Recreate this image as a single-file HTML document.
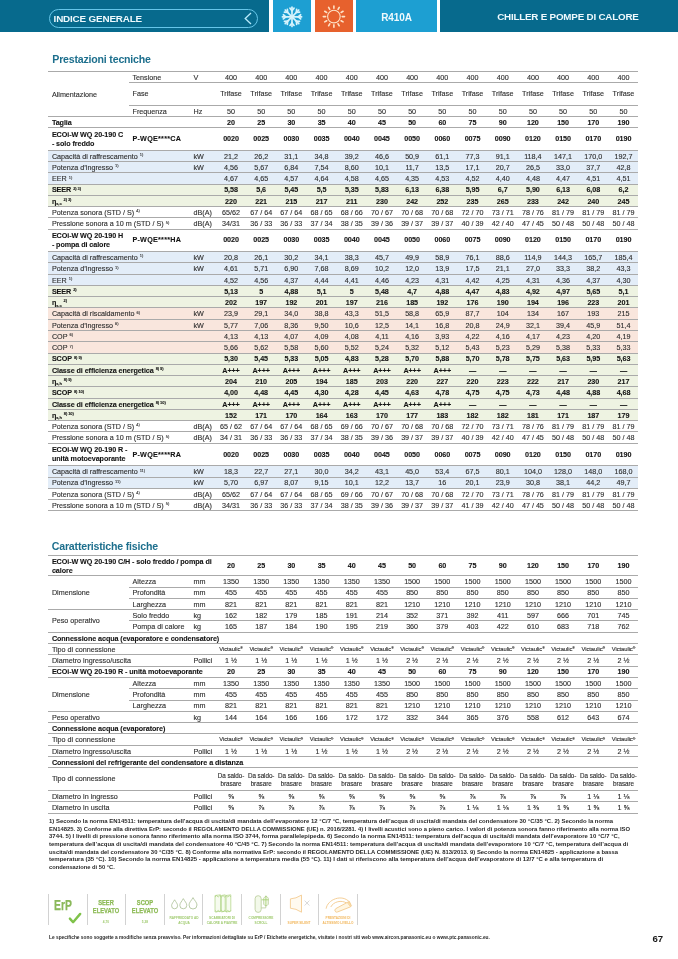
<!DOCTYPE html>
<html lang="it"><head><meta charset="utf-8"><title>Prestazioni tecniche</title>
<style>
*{margin:0;padding:0;box-sizing:border-box}
html,body{width:678px;height:959px;background:#fff;overflow:hidden}
body{position:relative;font-family:"Liberation Sans", Arial, sans-serif;color:#3a3a3a}
.t{position:absolute;white-space:nowrap;font-size:7.2px;padding-top:0.4px;color:#2e2e2e;-webkit-text-stroke:0.12px #2e2e2e}
.v{text-align:center}
.b{font-weight:bold;color:#141414;-webkit-text-stroke:0.1px #141414;letter-spacing:-0.08px}
.sm{font-size:5.8px;letter-spacing:-0.05px}
.sup{font-size:4px;position:relative;top:-2.6px;margin-left:2px;line-height:0}
sup.r{font-size:3.5px;position:relative;top:-1.5px;vertical-align:baseline;line-height:0}
.eta{font-weight:bold}
.eta sub{font-size:4px;position:relative;top:1.5px;vertical-align:baseline;line-height:0}
.fn{position:absolute;white-space:nowrap;font-size:6px;line-height:7px;font-weight:bold;color:#2a2a2a;transform-origin:0 0}
.ic{position:absolute;white-space:nowrap;text-align:center;transform-origin:50% 50%}
.hdr{position:absolute;top:0;height:31.5px}
.h1{position:absolute;font-weight:bold;color:#1d6f8d;font-size:10.6px;white-space:nowrap;letter-spacing:-0.2px}
</style></head><body>
<div class="hdr" style="left:0;width:269px;background:#076a8d"></div>
<div style="position:absolute;left:48.8px;top:9.3px;width:209px;height:18.5px;border:1.1px solid #66c6e9;border-radius:10px"></div>
<div style="position:absolute;left:53.6px;top:10.2px;height:18.5px;line-height:18.5px;font-weight:bold;font-size:9.9px;color:#eef9fd;letter-spacing:-0.18px;white-space:nowrap">INDICE GENERALE</div>
<svg style="position:absolute;left:243px;top:12px" width="10" height="13" viewBox="0 0 10 13"><path d="M8 1 L2.2 6.5 L8 12" fill="none" stroke="#b8ebfb" stroke-width="1.3"/></svg>
<div class="hdr" style="left:272.8px;width:38.4px;background:#1d9fd2"></div>
<div class="hdr" style="left:314.6px;width:38.6px;background:#e7612d"></div>
<div class="hdr" style="left:356.3px;width:80.5px;background:#1d9fd2;color:#eef9fd;font-weight:bold;font-size:10px;line-height:31.5px;padding-top:1.6px;text-align:center;letter-spacing:-0.1px">R410A</div>
<div class="hdr" style="left:440.3px;width:237.7px;background:#076a8d"></div>
<div style="position:absolute;left:497.2px;top:1.1px;height:31.5px;line-height:31.5px;color:#eef9fd;font-weight:bold;font-size:9.8px;letter-spacing:-0.2px;white-space:nowrap">CHILLER E POMPE DI CALORE</div>
<div class="h1" style="left:52.3px;top:51px;line-height:16px">Prestazioni tecniche</div>
<div class="h1" style="left:51.8px;top:537.5px;line-height:16px">Caratteristiche fisiche</div>
<div class="t" style="left:132.50px;top:71.30px;width:60.00px;height:11.27px;line-height:11.27px;text-align:left;">Tensione</div>
<div class="t" style="left:193.50px;top:71.30px;width:24.00px;height:11.27px;line-height:11.27px;text-align:left;">V</div>
<div class="t v " style="left:215.91px;top:71.30px;width:30.19px;height:11.27px;line-height:11.27px">400</div>
<div class="t v " style="left:246.09px;top:71.30px;width:30.19px;height:11.27px;line-height:11.27px">400</div>
<div class="t v " style="left:276.28px;top:71.30px;width:30.19px;height:11.27px;line-height:11.27px">400</div>
<div class="t v " style="left:306.47px;top:71.30px;width:30.19px;height:11.27px;line-height:11.27px">400</div>
<div class="t v " style="left:336.66px;top:71.30px;width:30.19px;height:11.27px;line-height:11.27px">400</div>
<div class="t v " style="left:366.86px;top:71.30px;width:30.19px;height:11.27px;line-height:11.27px">400</div>
<div class="t v " style="left:397.04px;top:71.30px;width:30.19px;height:11.27px;line-height:11.27px">400</div>
<div class="t v " style="left:427.24px;top:71.30px;width:30.19px;height:11.27px;line-height:11.27px">400</div>
<div class="t v " style="left:457.42px;top:71.30px;width:30.19px;height:11.27px;line-height:11.27px">400</div>
<div class="t v " style="left:487.62px;top:71.30px;width:30.19px;height:11.27px;line-height:11.27px">400</div>
<div class="t v " style="left:517.81px;top:71.30px;width:30.19px;height:11.27px;line-height:11.27px">400</div>
<div class="t v " style="left:548.00px;top:71.30px;width:30.19px;height:11.27px;line-height:11.27px">400</div>
<div class="t v " style="left:578.18px;top:71.30px;width:30.19px;height:11.27px;line-height:11.27px">400</div>
<div class="t v " style="left:608.38px;top:71.30px;width:30.19px;height:11.27px;line-height:11.27px">400</div>
<div class="t" style="left:132.50px;top:82.57px;width:60.00px;height:22.54px;line-height:22.54px;text-align:left;">Fase</div>
<div class="t v " style="left:215.91px;top:82.57px;width:30.19px;height:22.54px;line-height:22.54px">Trifase</div>
<div class="t v " style="left:246.09px;top:82.57px;width:30.19px;height:22.54px;line-height:22.54px">Trifase</div>
<div class="t v " style="left:276.28px;top:82.57px;width:30.19px;height:22.54px;line-height:22.54px">Trifase</div>
<div class="t v " style="left:306.47px;top:82.57px;width:30.19px;height:22.54px;line-height:22.54px">Trifase</div>
<div class="t v " style="left:336.66px;top:82.57px;width:30.19px;height:22.54px;line-height:22.54px">Trifase</div>
<div class="t v " style="left:366.86px;top:82.57px;width:30.19px;height:22.54px;line-height:22.54px">Trifase</div>
<div class="t v " style="left:397.04px;top:82.57px;width:30.19px;height:22.54px;line-height:22.54px">Trifase</div>
<div class="t v " style="left:427.24px;top:82.57px;width:30.19px;height:22.54px;line-height:22.54px">Trifase</div>
<div class="t v " style="left:457.42px;top:82.57px;width:30.19px;height:22.54px;line-height:22.54px">Trifase</div>
<div class="t v " style="left:487.62px;top:82.57px;width:30.19px;height:22.54px;line-height:22.54px">Trifase</div>
<div class="t v " style="left:517.81px;top:82.57px;width:30.19px;height:22.54px;line-height:22.54px">Trifase</div>
<div class="t v " style="left:548.00px;top:82.57px;width:30.19px;height:22.54px;line-height:22.54px">Trifase</div>
<div class="t v " style="left:578.18px;top:82.57px;width:30.19px;height:22.54px;line-height:22.54px">Trifase</div>
<div class="t v " style="left:608.38px;top:82.57px;width:30.19px;height:22.54px;line-height:22.54px">Trifase</div>
<div class="t" style="left:132.50px;top:105.11px;width:60.00px;height:11.27px;line-height:11.27px;text-align:left;">Frequenza</div>
<div class="t" style="left:51.90px;top:71.30px;width:80.00px;height:45.08px;line-height:45.08px;text-align:left;">Alimentazione</div>
<div class="t" style="left:193.50px;top:105.11px;width:24.00px;height:11.27px;line-height:11.27px;text-align:left;">Hz</div>
<div class="t v " style="left:215.91px;top:105.11px;width:30.19px;height:11.27px;line-height:11.27px">50</div>
<div class="t v " style="left:246.09px;top:105.11px;width:30.19px;height:11.27px;line-height:11.27px">50</div>
<div class="t v " style="left:276.28px;top:105.11px;width:30.19px;height:11.27px;line-height:11.27px">50</div>
<div class="t v " style="left:306.47px;top:105.11px;width:30.19px;height:11.27px;line-height:11.27px">50</div>
<div class="t v " style="left:336.66px;top:105.11px;width:30.19px;height:11.27px;line-height:11.27px">50</div>
<div class="t v " style="left:366.86px;top:105.11px;width:30.19px;height:11.27px;line-height:11.27px">50</div>
<div class="t v " style="left:397.04px;top:105.11px;width:30.19px;height:11.27px;line-height:11.27px">50</div>
<div class="t v " style="left:427.24px;top:105.11px;width:30.19px;height:11.27px;line-height:11.27px">50</div>
<div class="t v " style="left:457.42px;top:105.11px;width:30.19px;height:11.27px;line-height:11.27px">50</div>
<div class="t v " style="left:487.62px;top:105.11px;width:30.19px;height:11.27px;line-height:11.27px">50</div>
<div class="t v " style="left:517.81px;top:105.11px;width:30.19px;height:11.27px;line-height:11.27px">50</div>
<div class="t v " style="left:548.00px;top:105.11px;width:30.19px;height:11.27px;line-height:11.27px">50</div>
<div class="t v " style="left:578.18px;top:105.11px;width:30.19px;height:11.27px;line-height:11.27px">50</div>
<div class="t v " style="left:608.38px;top:105.11px;width:30.19px;height:11.27px;line-height:11.27px">50</div>
<div class="t b" style="left:51.90px;top:116.38px;height:11.27px;line-height:11.27px">Taglia</div>
<div class="t v b" style="left:215.91px;top:116.38px;width:30.19px;height:11.27px;line-height:11.27px">20</div>
<div class="t v b" style="left:246.09px;top:116.38px;width:30.19px;height:11.27px;line-height:11.27px">25</div>
<div class="t v b" style="left:276.28px;top:116.38px;width:30.19px;height:11.27px;line-height:11.27px">30</div>
<div class="t v b" style="left:306.47px;top:116.38px;width:30.19px;height:11.27px;line-height:11.27px">35</div>
<div class="t v b" style="left:336.66px;top:116.38px;width:30.19px;height:11.27px;line-height:11.27px">40</div>
<div class="t v b" style="left:366.86px;top:116.38px;width:30.19px;height:11.27px;line-height:11.27px">45</div>
<div class="t v b" style="left:397.04px;top:116.38px;width:30.19px;height:11.27px;line-height:11.27px">50</div>
<div class="t v b" style="left:427.24px;top:116.38px;width:30.19px;height:11.27px;line-height:11.27px">60</div>
<div class="t v b" style="left:457.42px;top:116.38px;width:30.19px;height:11.27px;line-height:11.27px">75</div>
<div class="t v b" style="left:487.62px;top:116.38px;width:30.19px;height:11.27px;line-height:11.27px">90</div>
<div class="t v b" style="left:517.81px;top:116.38px;width:30.19px;height:11.27px;line-height:11.27px">120</div>
<div class="t v b" style="left:548.00px;top:116.38px;width:30.19px;height:11.27px;line-height:11.27px">150</div>
<div class="t v b" style="left:578.18px;top:116.38px;width:30.19px;height:11.27px;line-height:11.27px">170</div>
<div class="t v b" style="left:608.38px;top:116.38px;width:30.19px;height:11.27px;line-height:11.27px">190</div>
<div class="t b" style="left:51.90px;top:130.35px;width:90px;line-height:8.8px">ECOi-W WQ 20-190 C<br>- solo freddo</div>
<div class="t b" style="left:132.40px;top:127.65px;height:22.54px;line-height:22.54px;letter-spacing:0.26px">P-WQE****CA</div>
<div class="t v b" style="left:215.91px;top:127.65px;width:30.19px;height:22.54px;line-height:22.54px">0020</div>
<div class="t v b" style="left:246.09px;top:127.65px;width:30.19px;height:22.54px;line-height:22.54px">0025</div>
<div class="t v b" style="left:276.28px;top:127.65px;width:30.19px;height:22.54px;line-height:22.54px">0030</div>
<div class="t v b" style="left:306.47px;top:127.65px;width:30.19px;height:22.54px;line-height:22.54px">0035</div>
<div class="t v b" style="left:336.66px;top:127.65px;width:30.19px;height:22.54px;line-height:22.54px">0040</div>
<div class="t v b" style="left:366.86px;top:127.65px;width:30.19px;height:22.54px;line-height:22.54px">0045</div>
<div class="t v b" style="left:397.04px;top:127.65px;width:30.19px;height:22.54px;line-height:22.54px">0050</div>
<div class="t v b" style="left:427.24px;top:127.65px;width:30.19px;height:22.54px;line-height:22.54px">0060</div>
<div class="t v b" style="left:457.42px;top:127.65px;width:30.19px;height:22.54px;line-height:22.54px">0075</div>
<div class="t v b" style="left:487.62px;top:127.65px;width:30.19px;height:22.54px;line-height:22.54px">0090</div>
<div class="t v b" style="left:517.81px;top:127.65px;width:30.19px;height:22.54px;line-height:22.54px">0120</div>
<div class="t v b" style="left:548.00px;top:127.65px;width:30.19px;height:22.54px;line-height:22.54px">0150</div>
<div class="t v b" style="left:578.18px;top:127.65px;width:30.19px;height:22.54px;line-height:22.54px">0170</div>
<div class="t v b" style="left:608.38px;top:127.65px;width:30.19px;height:22.54px;line-height:22.54px">0190</div>
<div style="position:absolute;left:48.40px;top:150.19px;width:589.60px;height:11.27px;background:#e3edf8"></div>
<div class="t " style="left:51.90px;top:150.19px;height:11.27px;line-height:11.27px">Capacità di raffrescamento<span class="sup">1)</span></div>
<div class="t" style="left:193.50px;top:150.19px;width:24.00px;height:11.27px;line-height:11.27px;text-align:left;">kW</div>
<div class="t v " style="left:215.91px;top:150.19px;width:30.19px;height:11.27px;line-height:11.27px">21,2</div>
<div class="t v " style="left:246.09px;top:150.19px;width:30.19px;height:11.27px;line-height:11.27px">26,2</div>
<div class="t v " style="left:276.28px;top:150.19px;width:30.19px;height:11.27px;line-height:11.27px">31,1</div>
<div class="t v " style="left:306.47px;top:150.19px;width:30.19px;height:11.27px;line-height:11.27px">34,8</div>
<div class="t v " style="left:336.66px;top:150.19px;width:30.19px;height:11.27px;line-height:11.27px">39,2</div>
<div class="t v " style="left:366.86px;top:150.19px;width:30.19px;height:11.27px;line-height:11.27px">46,6</div>
<div class="t v " style="left:397.04px;top:150.19px;width:30.19px;height:11.27px;line-height:11.27px">50,9</div>
<div class="t v " style="left:427.24px;top:150.19px;width:30.19px;height:11.27px;line-height:11.27px">61,1</div>
<div class="t v " style="left:457.42px;top:150.19px;width:30.19px;height:11.27px;line-height:11.27px">77,3</div>
<div class="t v " style="left:487.62px;top:150.19px;width:30.19px;height:11.27px;line-height:11.27px">91,1</div>
<div class="t v " style="left:517.81px;top:150.19px;width:30.19px;height:11.27px;line-height:11.27px">118,4</div>
<div class="t v " style="left:548.00px;top:150.19px;width:30.19px;height:11.27px;line-height:11.27px">147,1</div>
<div class="t v " style="left:578.18px;top:150.19px;width:30.19px;height:11.27px;line-height:11.27px">170,0</div>
<div class="t v " style="left:608.38px;top:150.19px;width:30.19px;height:11.27px;line-height:11.27px">192,7</div>
<div style="position:absolute;left:48.40px;top:161.46px;width:589.60px;height:11.27px;background:#e3edf8"></div>
<div class="t " style="left:51.90px;top:161.46px;height:11.27px;line-height:11.27px">Potenza d’ingresso<span class="sup">1)</span></div>
<div class="t" style="left:193.50px;top:161.46px;width:24.00px;height:11.27px;line-height:11.27px;text-align:left;">kW</div>
<div class="t v " style="left:215.91px;top:161.46px;width:30.19px;height:11.27px;line-height:11.27px">4,56</div>
<div class="t v " style="left:246.09px;top:161.46px;width:30.19px;height:11.27px;line-height:11.27px">5,67</div>
<div class="t v " style="left:276.28px;top:161.46px;width:30.19px;height:11.27px;line-height:11.27px">6,84</div>
<div class="t v " style="left:306.47px;top:161.46px;width:30.19px;height:11.27px;line-height:11.27px">7,54</div>
<div class="t v " style="left:336.66px;top:161.46px;width:30.19px;height:11.27px;line-height:11.27px">8,60</div>
<div class="t v " style="left:366.86px;top:161.46px;width:30.19px;height:11.27px;line-height:11.27px">10,1</div>
<div class="t v " style="left:397.04px;top:161.46px;width:30.19px;height:11.27px;line-height:11.27px">11,7</div>
<div class="t v " style="left:427.24px;top:161.46px;width:30.19px;height:11.27px;line-height:11.27px">13,5</div>
<div class="t v " style="left:457.42px;top:161.46px;width:30.19px;height:11.27px;line-height:11.27px">17,1</div>
<div class="t v " style="left:487.62px;top:161.46px;width:30.19px;height:11.27px;line-height:11.27px">20,7</div>
<div class="t v " style="left:517.81px;top:161.46px;width:30.19px;height:11.27px;line-height:11.27px">26,5</div>
<div class="t v " style="left:548.00px;top:161.46px;width:30.19px;height:11.27px;line-height:11.27px">33,0</div>
<div class="t v " style="left:578.18px;top:161.46px;width:30.19px;height:11.27px;line-height:11.27px">37,7</div>
<div class="t v " style="left:608.38px;top:161.46px;width:30.19px;height:11.27px;line-height:11.27px">42,8</div>
<div style="position:absolute;left:48.40px;top:172.73px;width:589.60px;height:11.27px;background:#e3edf8"></div>
<div class="t " style="left:51.90px;top:172.73px;height:11.27px;line-height:11.27px">EER<span class="sup">1)</span></div>
<div class="t v " style="left:215.91px;top:172.73px;width:30.19px;height:11.27px;line-height:11.27px">4,67</div>
<div class="t v " style="left:246.09px;top:172.73px;width:30.19px;height:11.27px;line-height:11.27px">4,65</div>
<div class="t v " style="left:276.28px;top:172.73px;width:30.19px;height:11.27px;line-height:11.27px">4,57</div>
<div class="t v " style="left:306.47px;top:172.73px;width:30.19px;height:11.27px;line-height:11.27px">4,64</div>
<div class="t v " style="left:336.66px;top:172.73px;width:30.19px;height:11.27px;line-height:11.27px">4,58</div>
<div class="t v " style="left:366.86px;top:172.73px;width:30.19px;height:11.27px;line-height:11.27px">4,65</div>
<div class="t v " style="left:397.04px;top:172.73px;width:30.19px;height:11.27px;line-height:11.27px">4,35</div>
<div class="t v " style="left:427.24px;top:172.73px;width:30.19px;height:11.27px;line-height:11.27px">4,53</div>
<div class="t v " style="left:457.42px;top:172.73px;width:30.19px;height:11.27px;line-height:11.27px">4,52</div>
<div class="t v " style="left:487.62px;top:172.73px;width:30.19px;height:11.27px;line-height:11.27px">4,40</div>
<div class="t v " style="left:517.81px;top:172.73px;width:30.19px;height:11.27px;line-height:11.27px">4,48</div>
<div class="t v " style="left:548.00px;top:172.73px;width:30.19px;height:11.27px;line-height:11.27px">4,47</div>
<div class="t v " style="left:578.18px;top:172.73px;width:30.19px;height:11.27px;line-height:11.27px">4,51</div>
<div class="t v " style="left:608.38px;top:172.73px;width:30.19px;height:11.27px;line-height:11.27px">4,51</div>
<div style="position:absolute;left:48.40px;top:184.00px;width:589.60px;height:11.27px;background:#eef3e2"></div>
<div class="t b" style="left:51.90px;top:184.00px;height:11.27px;line-height:11.27px">SEER<span class="sup">2) 3)</span></div>
<div class="t v b" style="left:215.91px;top:184.00px;width:30.19px;height:11.27px;line-height:11.27px">5,58</div>
<div class="t v b" style="left:246.09px;top:184.00px;width:30.19px;height:11.27px;line-height:11.27px">5,6</div>
<div class="t v b" style="left:276.28px;top:184.00px;width:30.19px;height:11.27px;line-height:11.27px">5,45</div>
<div class="t v b" style="left:306.47px;top:184.00px;width:30.19px;height:11.27px;line-height:11.27px">5,5</div>
<div class="t v b" style="left:336.66px;top:184.00px;width:30.19px;height:11.27px;line-height:11.27px">5,35</div>
<div class="t v b" style="left:366.86px;top:184.00px;width:30.19px;height:11.27px;line-height:11.27px">5,83</div>
<div class="t v b" style="left:397.04px;top:184.00px;width:30.19px;height:11.27px;line-height:11.27px">6,13</div>
<div class="t v b" style="left:427.24px;top:184.00px;width:30.19px;height:11.27px;line-height:11.27px">6,38</div>
<div class="t v b" style="left:457.42px;top:184.00px;width:30.19px;height:11.27px;line-height:11.27px">5,95</div>
<div class="t v b" style="left:487.62px;top:184.00px;width:30.19px;height:11.27px;line-height:11.27px">6,7</div>
<div class="t v b" style="left:517.81px;top:184.00px;width:30.19px;height:11.27px;line-height:11.27px">5,90</div>
<div class="t v b" style="left:548.00px;top:184.00px;width:30.19px;height:11.27px;line-height:11.27px">6,13</div>
<div class="t v b" style="left:578.18px;top:184.00px;width:30.19px;height:11.27px;line-height:11.27px">6,08</div>
<div class="t v b" style="left:608.38px;top:184.00px;width:30.19px;height:11.27px;line-height:11.27px">6,2</div>
<div style="position:absolute;left:48.40px;top:195.27px;width:589.60px;height:11.27px;background:#eef3e2"></div>
<div class="t b" style="left:51.90px;top:195.27px;height:11.27px;line-height:11.27px"><span class="eta">η<sub>s,c</sub></span><span class="sup">2) 3)</span></div>
<div class="t v b" style="left:215.91px;top:195.27px;width:30.19px;height:11.27px;line-height:11.27px">220</div>
<div class="t v b" style="left:246.09px;top:195.27px;width:30.19px;height:11.27px;line-height:11.27px">221</div>
<div class="t v b" style="left:276.28px;top:195.27px;width:30.19px;height:11.27px;line-height:11.27px">215</div>
<div class="t v b" style="left:306.47px;top:195.27px;width:30.19px;height:11.27px;line-height:11.27px">217</div>
<div class="t v b" style="left:336.66px;top:195.27px;width:30.19px;height:11.27px;line-height:11.27px">211</div>
<div class="t v b" style="left:366.86px;top:195.27px;width:30.19px;height:11.27px;line-height:11.27px">230</div>
<div class="t v b" style="left:397.04px;top:195.27px;width:30.19px;height:11.27px;line-height:11.27px">242</div>
<div class="t v b" style="left:427.24px;top:195.27px;width:30.19px;height:11.27px;line-height:11.27px">252</div>
<div class="t v b" style="left:457.42px;top:195.27px;width:30.19px;height:11.27px;line-height:11.27px">235</div>
<div class="t v b" style="left:487.62px;top:195.27px;width:30.19px;height:11.27px;line-height:11.27px">265</div>
<div class="t v b" style="left:517.81px;top:195.27px;width:30.19px;height:11.27px;line-height:11.27px">233</div>
<div class="t v b" style="left:548.00px;top:195.27px;width:30.19px;height:11.27px;line-height:11.27px">242</div>
<div class="t v b" style="left:578.18px;top:195.27px;width:30.19px;height:11.27px;line-height:11.27px">240</div>
<div class="t v b" style="left:608.38px;top:195.27px;width:30.19px;height:11.27px;line-height:11.27px">245</div>
<div class="t " style="left:51.90px;top:206.54px;height:11.27px;line-height:11.27px">Potenza sonora (STD / S)<span class="sup">4)</span></div>
<div class="t" style="left:193.50px;top:206.54px;width:24.00px;height:11.27px;line-height:11.27px;text-align:left;">dB(A)</div>
<div class="t v " style="left:215.91px;top:206.54px;width:30.19px;height:11.27px;line-height:11.27px">65/62</div>
<div class="t v " style="left:246.09px;top:206.54px;width:30.19px;height:11.27px;line-height:11.27px">67 / 64</div>
<div class="t v " style="left:276.28px;top:206.54px;width:30.19px;height:11.27px;line-height:11.27px">67 / 64</div>
<div class="t v " style="left:306.47px;top:206.54px;width:30.19px;height:11.27px;line-height:11.27px">68 / 65</div>
<div class="t v " style="left:336.66px;top:206.54px;width:30.19px;height:11.27px;line-height:11.27px">68 / 66</div>
<div class="t v " style="left:366.86px;top:206.54px;width:30.19px;height:11.27px;line-height:11.27px">70 / 67</div>
<div class="t v " style="left:397.04px;top:206.54px;width:30.19px;height:11.27px;line-height:11.27px">70 / 68</div>
<div class="t v " style="left:427.24px;top:206.54px;width:30.19px;height:11.27px;line-height:11.27px">70 / 68</div>
<div class="t v " style="left:457.42px;top:206.54px;width:30.19px;height:11.27px;line-height:11.27px">72 / 70</div>
<div class="t v " style="left:487.62px;top:206.54px;width:30.19px;height:11.27px;line-height:11.27px">73 / 71</div>
<div class="t v " style="left:517.81px;top:206.54px;width:30.19px;height:11.27px;line-height:11.27px">78 / 76</div>
<div class="t v " style="left:548.00px;top:206.54px;width:30.19px;height:11.27px;line-height:11.27px">81 / 79</div>
<div class="t v " style="left:578.18px;top:206.54px;width:30.19px;height:11.27px;line-height:11.27px">81 / 79</div>
<div class="t v " style="left:608.38px;top:206.54px;width:30.19px;height:11.27px;line-height:11.27px">81 / 79</div>
<div class="t " style="left:51.90px;top:217.81px;height:11.27px;line-height:11.27px">Pressione sonora a 10 m (STD / S)<span class="sup">5)</span></div>
<div class="t" style="left:193.50px;top:217.81px;width:24.00px;height:11.27px;line-height:11.27px;text-align:left;">dB(A)</div>
<div class="t v " style="left:215.91px;top:217.81px;width:30.19px;height:11.27px;line-height:11.27px">34/31</div>
<div class="t v " style="left:246.09px;top:217.81px;width:30.19px;height:11.27px;line-height:11.27px">36 / 33</div>
<div class="t v " style="left:276.28px;top:217.81px;width:30.19px;height:11.27px;line-height:11.27px">36 / 33</div>
<div class="t v " style="left:306.47px;top:217.81px;width:30.19px;height:11.27px;line-height:11.27px">37 / 34</div>
<div class="t v " style="left:336.66px;top:217.81px;width:30.19px;height:11.27px;line-height:11.27px">38 / 35</div>
<div class="t v " style="left:366.86px;top:217.81px;width:30.19px;height:11.27px;line-height:11.27px">39 / 36</div>
<div class="t v " style="left:397.04px;top:217.81px;width:30.19px;height:11.27px;line-height:11.27px">39 / 37</div>
<div class="t v " style="left:427.24px;top:217.81px;width:30.19px;height:11.27px;line-height:11.27px">39 / 37</div>
<div class="t v " style="left:457.42px;top:217.81px;width:30.19px;height:11.27px;line-height:11.27px">40 / 39</div>
<div class="t v " style="left:487.62px;top:217.81px;width:30.19px;height:11.27px;line-height:11.27px">42 / 40</div>
<div class="t v " style="left:517.81px;top:217.81px;width:30.19px;height:11.27px;line-height:11.27px">47 / 45</div>
<div class="t v " style="left:548.00px;top:217.81px;width:30.19px;height:11.27px;line-height:11.27px">50 / 48</div>
<div class="t v " style="left:578.18px;top:217.81px;width:30.19px;height:11.27px;line-height:11.27px">50 / 48</div>
<div class="t v " style="left:608.38px;top:217.81px;width:30.19px;height:11.27px;line-height:11.27px">50 / 48</div>
<div class="t b" style="left:51.90px;top:231.78px;width:90px;line-height:8.8px">ECOi-W WQ 20-190 H<br>- pompa di calore</div>
<div class="t b" style="left:132.40px;top:229.08px;height:22.54px;line-height:22.54px;letter-spacing:0.26px">P-WQE****HA</div>
<div class="t v b" style="left:215.91px;top:229.08px;width:30.19px;height:22.54px;line-height:22.54px">0020</div>
<div class="t v b" style="left:246.09px;top:229.08px;width:30.19px;height:22.54px;line-height:22.54px">0025</div>
<div class="t v b" style="left:276.28px;top:229.08px;width:30.19px;height:22.54px;line-height:22.54px">0030</div>
<div class="t v b" style="left:306.47px;top:229.08px;width:30.19px;height:22.54px;line-height:22.54px">0035</div>
<div class="t v b" style="left:336.66px;top:229.08px;width:30.19px;height:22.54px;line-height:22.54px">0040</div>
<div class="t v b" style="left:366.86px;top:229.08px;width:30.19px;height:22.54px;line-height:22.54px">0045</div>
<div class="t v b" style="left:397.04px;top:229.08px;width:30.19px;height:22.54px;line-height:22.54px">0050</div>
<div class="t v b" style="left:427.24px;top:229.08px;width:30.19px;height:22.54px;line-height:22.54px">0060</div>
<div class="t v b" style="left:457.42px;top:229.08px;width:30.19px;height:22.54px;line-height:22.54px">0075</div>
<div class="t v b" style="left:487.62px;top:229.08px;width:30.19px;height:22.54px;line-height:22.54px">0090</div>
<div class="t v b" style="left:517.81px;top:229.08px;width:30.19px;height:22.54px;line-height:22.54px">0120</div>
<div class="t v b" style="left:548.00px;top:229.08px;width:30.19px;height:22.54px;line-height:22.54px">0150</div>
<div class="t v b" style="left:578.18px;top:229.08px;width:30.19px;height:22.54px;line-height:22.54px">0170</div>
<div class="t v b" style="left:608.38px;top:229.08px;width:30.19px;height:22.54px;line-height:22.54px">0190</div>
<div style="position:absolute;left:48.40px;top:251.62px;width:589.60px;height:11.27px;background:#e3edf8"></div>
<div class="t " style="left:51.90px;top:251.62px;height:11.27px;line-height:11.27px">Capacità di raffrescamento<span class="sup">1)</span></div>
<div class="t" style="left:193.50px;top:251.62px;width:24.00px;height:11.27px;line-height:11.27px;text-align:left;">kW</div>
<div class="t v " style="left:215.91px;top:251.62px;width:30.19px;height:11.27px;line-height:11.27px">20,8</div>
<div class="t v " style="left:246.09px;top:251.62px;width:30.19px;height:11.27px;line-height:11.27px">26,1</div>
<div class="t v " style="left:276.28px;top:251.62px;width:30.19px;height:11.27px;line-height:11.27px">30,2</div>
<div class="t v " style="left:306.47px;top:251.62px;width:30.19px;height:11.27px;line-height:11.27px">34,1</div>
<div class="t v " style="left:336.66px;top:251.62px;width:30.19px;height:11.27px;line-height:11.27px">38,3</div>
<div class="t v " style="left:366.86px;top:251.62px;width:30.19px;height:11.27px;line-height:11.27px">45,7</div>
<div class="t v " style="left:397.04px;top:251.62px;width:30.19px;height:11.27px;line-height:11.27px">49,9</div>
<div class="t v " style="left:427.24px;top:251.62px;width:30.19px;height:11.27px;line-height:11.27px">58,9</div>
<div class="t v " style="left:457.42px;top:251.62px;width:30.19px;height:11.27px;line-height:11.27px">76,1</div>
<div class="t v " style="left:487.62px;top:251.62px;width:30.19px;height:11.27px;line-height:11.27px">88,6</div>
<div class="t v " style="left:517.81px;top:251.62px;width:30.19px;height:11.27px;line-height:11.27px">114,9</div>
<div class="t v " style="left:548.00px;top:251.62px;width:30.19px;height:11.27px;line-height:11.27px">144,3</div>
<div class="t v " style="left:578.18px;top:251.62px;width:30.19px;height:11.27px;line-height:11.27px">165,7</div>
<div class="t v " style="left:608.38px;top:251.62px;width:30.19px;height:11.27px;line-height:11.27px">185,4</div>
<div style="position:absolute;left:48.40px;top:262.89px;width:589.60px;height:11.27px;background:#e3edf8"></div>
<div class="t " style="left:51.90px;top:262.89px;height:11.27px;line-height:11.27px">Potenza d’ingresso<span class="sup">1)</span></div>
<div class="t" style="left:193.50px;top:262.89px;width:24.00px;height:11.27px;line-height:11.27px;text-align:left;">kW</div>
<div class="t v " style="left:215.91px;top:262.89px;width:30.19px;height:11.27px;line-height:11.27px">4,61</div>
<div class="t v " style="left:246.09px;top:262.89px;width:30.19px;height:11.27px;line-height:11.27px">5,71</div>
<div class="t v " style="left:276.28px;top:262.89px;width:30.19px;height:11.27px;line-height:11.27px">6,90</div>
<div class="t v " style="left:306.47px;top:262.89px;width:30.19px;height:11.27px;line-height:11.27px">7,68</div>
<div class="t v " style="left:336.66px;top:262.89px;width:30.19px;height:11.27px;line-height:11.27px">8,69</div>
<div class="t v " style="left:366.86px;top:262.89px;width:30.19px;height:11.27px;line-height:11.27px">10,2</div>
<div class="t v " style="left:397.04px;top:262.89px;width:30.19px;height:11.27px;line-height:11.27px">12,0</div>
<div class="t v " style="left:427.24px;top:262.89px;width:30.19px;height:11.27px;line-height:11.27px">13,9</div>
<div class="t v " style="left:457.42px;top:262.89px;width:30.19px;height:11.27px;line-height:11.27px">17,5</div>
<div class="t v " style="left:487.62px;top:262.89px;width:30.19px;height:11.27px;line-height:11.27px">21,1</div>
<div class="t v " style="left:517.81px;top:262.89px;width:30.19px;height:11.27px;line-height:11.27px">27,0</div>
<div class="t v " style="left:548.00px;top:262.89px;width:30.19px;height:11.27px;line-height:11.27px">33,3</div>
<div class="t v " style="left:578.18px;top:262.89px;width:30.19px;height:11.27px;line-height:11.27px">38,2</div>
<div class="t v " style="left:608.38px;top:262.89px;width:30.19px;height:11.27px;line-height:11.27px">43,3</div>
<div style="position:absolute;left:48.40px;top:274.16px;width:589.60px;height:11.27px;background:#e3edf8"></div>
<div class="t " style="left:51.90px;top:274.16px;height:11.27px;line-height:11.27px">EER<span class="sup">1)</span></div>
<div class="t v " style="left:215.91px;top:274.16px;width:30.19px;height:11.27px;line-height:11.27px">4,52</div>
<div class="t v " style="left:246.09px;top:274.16px;width:30.19px;height:11.27px;line-height:11.27px">4,56</div>
<div class="t v " style="left:276.28px;top:274.16px;width:30.19px;height:11.27px;line-height:11.27px">4,37</div>
<div class="t v " style="left:306.47px;top:274.16px;width:30.19px;height:11.27px;line-height:11.27px">4,44</div>
<div class="t v " style="left:336.66px;top:274.16px;width:30.19px;height:11.27px;line-height:11.27px">4,41</div>
<div class="t v " style="left:366.86px;top:274.16px;width:30.19px;height:11.27px;line-height:11.27px">4,46</div>
<div class="t v " style="left:397.04px;top:274.16px;width:30.19px;height:11.27px;line-height:11.27px">4,23</div>
<div class="t v " style="left:427.24px;top:274.16px;width:30.19px;height:11.27px;line-height:11.27px">4,31</div>
<div class="t v " style="left:457.42px;top:274.16px;width:30.19px;height:11.27px;line-height:11.27px">4,42</div>
<div class="t v " style="left:487.62px;top:274.16px;width:30.19px;height:11.27px;line-height:11.27px">4,25</div>
<div class="t v " style="left:517.81px;top:274.16px;width:30.19px;height:11.27px;line-height:11.27px">4,31</div>
<div class="t v " style="left:548.00px;top:274.16px;width:30.19px;height:11.27px;line-height:11.27px">4,36</div>
<div class="t v " style="left:578.18px;top:274.16px;width:30.19px;height:11.27px;line-height:11.27px">4,37</div>
<div class="t v " style="left:608.38px;top:274.16px;width:30.19px;height:11.27px;line-height:11.27px">4,30</div>
<div style="position:absolute;left:48.40px;top:285.43px;width:589.60px;height:11.27px;background:#eef3e2"></div>
<div class="t b" style="left:51.90px;top:285.43px;height:11.27px;line-height:11.27px">SEER<span class="sup">2)</span></div>
<div class="t v b" style="left:215.91px;top:285.43px;width:30.19px;height:11.27px;line-height:11.27px">5,13</div>
<div class="t v b" style="left:246.09px;top:285.43px;width:30.19px;height:11.27px;line-height:11.27px">5</div>
<div class="t v b" style="left:276.28px;top:285.43px;width:30.19px;height:11.27px;line-height:11.27px">4,88</div>
<div class="t v b" style="left:306.47px;top:285.43px;width:30.19px;height:11.27px;line-height:11.27px">5,1</div>
<div class="t v b" style="left:336.66px;top:285.43px;width:30.19px;height:11.27px;line-height:11.27px">5</div>
<div class="t v b" style="left:366.86px;top:285.43px;width:30.19px;height:11.27px;line-height:11.27px">5,48</div>
<div class="t v b" style="left:397.04px;top:285.43px;width:30.19px;height:11.27px;line-height:11.27px">4,7</div>
<div class="t v b" style="left:427.24px;top:285.43px;width:30.19px;height:11.27px;line-height:11.27px">4,88</div>
<div class="t v b" style="left:457.42px;top:285.43px;width:30.19px;height:11.27px;line-height:11.27px">4,47</div>
<div class="t v b" style="left:487.62px;top:285.43px;width:30.19px;height:11.27px;line-height:11.27px">4,83</div>
<div class="t v b" style="left:517.81px;top:285.43px;width:30.19px;height:11.27px;line-height:11.27px">4,92</div>
<div class="t v b" style="left:548.00px;top:285.43px;width:30.19px;height:11.27px;line-height:11.27px">4,97</div>
<div class="t v b" style="left:578.18px;top:285.43px;width:30.19px;height:11.27px;line-height:11.27px">5,65</div>
<div class="t v b" style="left:608.38px;top:285.43px;width:30.19px;height:11.27px;line-height:11.27px">5,1</div>
<div style="position:absolute;left:48.40px;top:296.70px;width:589.60px;height:11.27px;background:#eef3e2"></div>
<div class="t b" style="left:51.90px;top:296.70px;height:11.27px;line-height:11.27px"><span class="eta">η<sub>s,c</sub></span><span class="sup">2)</span></div>
<div class="t v b" style="left:215.91px;top:296.70px;width:30.19px;height:11.27px;line-height:11.27px">202</div>
<div class="t v b" style="left:246.09px;top:296.70px;width:30.19px;height:11.27px;line-height:11.27px">197</div>
<div class="t v b" style="left:276.28px;top:296.70px;width:30.19px;height:11.27px;line-height:11.27px">192</div>
<div class="t v b" style="left:306.47px;top:296.70px;width:30.19px;height:11.27px;line-height:11.27px">201</div>
<div class="t v b" style="left:336.66px;top:296.70px;width:30.19px;height:11.27px;line-height:11.27px">197</div>
<div class="t v b" style="left:366.86px;top:296.70px;width:30.19px;height:11.27px;line-height:11.27px">216</div>
<div class="t v b" style="left:397.04px;top:296.70px;width:30.19px;height:11.27px;line-height:11.27px">185</div>
<div class="t v b" style="left:427.24px;top:296.70px;width:30.19px;height:11.27px;line-height:11.27px">192</div>
<div class="t v b" style="left:457.42px;top:296.70px;width:30.19px;height:11.27px;line-height:11.27px">176</div>
<div class="t v b" style="left:487.62px;top:296.70px;width:30.19px;height:11.27px;line-height:11.27px">190</div>
<div class="t v b" style="left:517.81px;top:296.70px;width:30.19px;height:11.27px;line-height:11.27px">194</div>
<div class="t v b" style="left:548.00px;top:296.70px;width:30.19px;height:11.27px;line-height:11.27px">196</div>
<div class="t v b" style="left:578.18px;top:296.70px;width:30.19px;height:11.27px;line-height:11.27px">223</div>
<div class="t v b" style="left:608.38px;top:296.70px;width:30.19px;height:11.27px;line-height:11.27px">201</div>
<div style="position:absolute;left:48.40px;top:307.97px;width:589.60px;height:11.27px;background:#f9e6dd"></div>
<div class="t " style="left:51.90px;top:307.97px;height:11.27px;line-height:11.27px">Capacità di riscaldamento<span class="sup">6)</span></div>
<div class="t" style="left:193.50px;top:307.97px;width:24.00px;height:11.27px;line-height:11.27px;text-align:left;">kW</div>
<div class="t v " style="left:215.91px;top:307.97px;width:30.19px;height:11.27px;line-height:11.27px">23,9</div>
<div class="t v " style="left:246.09px;top:307.97px;width:30.19px;height:11.27px;line-height:11.27px">29,1</div>
<div class="t v " style="left:276.28px;top:307.97px;width:30.19px;height:11.27px;line-height:11.27px">34,0</div>
<div class="t v " style="left:306.47px;top:307.97px;width:30.19px;height:11.27px;line-height:11.27px">38,8</div>
<div class="t v " style="left:336.66px;top:307.97px;width:30.19px;height:11.27px;line-height:11.27px">43,3</div>
<div class="t v " style="left:366.86px;top:307.97px;width:30.19px;height:11.27px;line-height:11.27px">51,5</div>
<div class="t v " style="left:397.04px;top:307.97px;width:30.19px;height:11.27px;line-height:11.27px">58,8</div>
<div class="t v " style="left:427.24px;top:307.97px;width:30.19px;height:11.27px;line-height:11.27px">65,9</div>
<div class="t v " style="left:457.42px;top:307.97px;width:30.19px;height:11.27px;line-height:11.27px">87,7</div>
<div class="t v " style="left:487.62px;top:307.97px;width:30.19px;height:11.27px;line-height:11.27px">104</div>
<div class="t v " style="left:517.81px;top:307.97px;width:30.19px;height:11.27px;line-height:11.27px">134</div>
<div class="t v " style="left:548.00px;top:307.97px;width:30.19px;height:11.27px;line-height:11.27px">167</div>
<div class="t v " style="left:578.18px;top:307.97px;width:30.19px;height:11.27px;line-height:11.27px">193</div>
<div class="t v " style="left:608.38px;top:307.97px;width:30.19px;height:11.27px;line-height:11.27px">215</div>
<div style="position:absolute;left:48.40px;top:319.24px;width:589.60px;height:11.27px;background:#f9e6dd"></div>
<div class="t " style="left:51.90px;top:319.24px;height:11.27px;line-height:11.27px">Potenza d’ingresso<span class="sup">6)</span></div>
<div class="t" style="left:193.50px;top:319.24px;width:24.00px;height:11.27px;line-height:11.27px;text-align:left;">kW</div>
<div class="t v " style="left:215.91px;top:319.24px;width:30.19px;height:11.27px;line-height:11.27px">5,77</div>
<div class="t v " style="left:246.09px;top:319.24px;width:30.19px;height:11.27px;line-height:11.27px">7,06</div>
<div class="t v " style="left:276.28px;top:319.24px;width:30.19px;height:11.27px;line-height:11.27px">8,36</div>
<div class="t v " style="left:306.47px;top:319.24px;width:30.19px;height:11.27px;line-height:11.27px">9,50</div>
<div class="t v " style="left:336.66px;top:319.24px;width:30.19px;height:11.27px;line-height:11.27px">10,6</div>
<div class="t v " style="left:366.86px;top:319.24px;width:30.19px;height:11.27px;line-height:11.27px">12,5</div>
<div class="t v " style="left:397.04px;top:319.24px;width:30.19px;height:11.27px;line-height:11.27px">14,1</div>
<div class="t v " style="left:427.24px;top:319.24px;width:30.19px;height:11.27px;line-height:11.27px">16,8</div>
<div class="t v " style="left:457.42px;top:319.24px;width:30.19px;height:11.27px;line-height:11.27px">20,8</div>
<div class="t v " style="left:487.62px;top:319.24px;width:30.19px;height:11.27px;line-height:11.27px">24,9</div>
<div class="t v " style="left:517.81px;top:319.24px;width:30.19px;height:11.27px;line-height:11.27px">32,1</div>
<div class="t v " style="left:548.00px;top:319.24px;width:30.19px;height:11.27px;line-height:11.27px">39,4</div>
<div class="t v " style="left:578.18px;top:319.24px;width:30.19px;height:11.27px;line-height:11.27px">45,9</div>
<div class="t v " style="left:608.38px;top:319.24px;width:30.19px;height:11.27px;line-height:11.27px">51,4</div>
<div style="position:absolute;left:48.40px;top:330.51px;width:589.60px;height:11.27px;background:#f9e6dd"></div>
<div class="t " style="left:51.90px;top:330.51px;height:11.27px;line-height:11.27px">COP<span class="sup">6)</span></div>
<div class="t v " style="left:215.91px;top:330.51px;width:30.19px;height:11.27px;line-height:11.27px">4,13</div>
<div class="t v " style="left:246.09px;top:330.51px;width:30.19px;height:11.27px;line-height:11.27px">4,13</div>
<div class="t v " style="left:276.28px;top:330.51px;width:30.19px;height:11.27px;line-height:11.27px">4,07</div>
<div class="t v " style="left:306.47px;top:330.51px;width:30.19px;height:11.27px;line-height:11.27px">4,09</div>
<div class="t v " style="left:336.66px;top:330.51px;width:30.19px;height:11.27px;line-height:11.27px">4,08</div>
<div class="t v " style="left:366.86px;top:330.51px;width:30.19px;height:11.27px;line-height:11.27px">4,11</div>
<div class="t v " style="left:397.04px;top:330.51px;width:30.19px;height:11.27px;line-height:11.27px">4,16</div>
<div class="t v " style="left:427.24px;top:330.51px;width:30.19px;height:11.27px;line-height:11.27px">3,93</div>
<div class="t v " style="left:457.42px;top:330.51px;width:30.19px;height:11.27px;line-height:11.27px">4,22</div>
<div class="t v " style="left:487.62px;top:330.51px;width:30.19px;height:11.27px;line-height:11.27px">4,16</div>
<div class="t v " style="left:517.81px;top:330.51px;width:30.19px;height:11.27px;line-height:11.27px">4,17</div>
<div class="t v " style="left:548.00px;top:330.51px;width:30.19px;height:11.27px;line-height:11.27px">4,23</div>
<div class="t v " style="left:578.18px;top:330.51px;width:30.19px;height:11.27px;line-height:11.27px">4,20</div>
<div class="t v " style="left:608.38px;top:330.51px;width:30.19px;height:11.27px;line-height:11.27px">4,19</div>
<div style="position:absolute;left:48.40px;top:341.78px;width:589.60px;height:11.27px;background:#f9e6dd"></div>
<div class="t " style="left:51.90px;top:341.78px;height:11.27px;line-height:11.27px">COP<span class="sup">7)</span></div>
<div class="t v " style="left:215.91px;top:341.78px;width:30.19px;height:11.27px;line-height:11.27px">5,66</div>
<div class="t v " style="left:246.09px;top:341.78px;width:30.19px;height:11.27px;line-height:11.27px">5,62</div>
<div class="t v " style="left:276.28px;top:341.78px;width:30.19px;height:11.27px;line-height:11.27px">5,58</div>
<div class="t v " style="left:306.47px;top:341.78px;width:30.19px;height:11.27px;line-height:11.27px">5,60</div>
<div class="t v " style="left:336.66px;top:341.78px;width:30.19px;height:11.27px;line-height:11.27px">5,52</div>
<div class="t v " style="left:366.86px;top:341.78px;width:30.19px;height:11.27px;line-height:11.27px">5,24</div>
<div class="t v " style="left:397.04px;top:341.78px;width:30.19px;height:11.27px;line-height:11.27px">5,32</div>
<div class="t v " style="left:427.24px;top:341.78px;width:30.19px;height:11.27px;line-height:11.27px">5,12</div>
<div class="t v " style="left:457.42px;top:341.78px;width:30.19px;height:11.27px;line-height:11.27px">5,43</div>
<div class="t v " style="left:487.62px;top:341.78px;width:30.19px;height:11.27px;line-height:11.27px">5,23</div>
<div class="t v " style="left:517.81px;top:341.78px;width:30.19px;height:11.27px;line-height:11.27px">5,29</div>
<div class="t v " style="left:548.00px;top:341.78px;width:30.19px;height:11.27px;line-height:11.27px">5,38</div>
<div class="t v " style="left:578.18px;top:341.78px;width:30.19px;height:11.27px;line-height:11.27px">5,33</div>
<div class="t v " style="left:608.38px;top:341.78px;width:30.19px;height:11.27px;line-height:11.27px">5,33</div>
<div style="position:absolute;left:48.40px;top:353.05px;width:589.60px;height:11.27px;background:#eef3e2"></div>
<div class="t b" style="left:51.90px;top:353.05px;height:11.27px;line-height:11.27px">SCOP<span class="sup">8) 9)</span></div>
<div class="t v b" style="left:215.91px;top:353.05px;width:30.19px;height:11.27px;line-height:11.27px">5,30</div>
<div class="t v b" style="left:246.09px;top:353.05px;width:30.19px;height:11.27px;line-height:11.27px">5,45</div>
<div class="t v b" style="left:276.28px;top:353.05px;width:30.19px;height:11.27px;line-height:11.27px">5,33</div>
<div class="t v b" style="left:306.47px;top:353.05px;width:30.19px;height:11.27px;line-height:11.27px">5,05</div>
<div class="t v b" style="left:336.66px;top:353.05px;width:30.19px;height:11.27px;line-height:11.27px">4,83</div>
<div class="t v b" style="left:366.86px;top:353.05px;width:30.19px;height:11.27px;line-height:11.27px">5,28</div>
<div class="t v b" style="left:397.04px;top:353.05px;width:30.19px;height:11.27px;line-height:11.27px">5,70</div>
<div class="t v b" style="left:427.24px;top:353.05px;width:30.19px;height:11.27px;line-height:11.27px">5,88</div>
<div class="t v b" style="left:457.42px;top:353.05px;width:30.19px;height:11.27px;line-height:11.27px">5,70</div>
<div class="t v b" style="left:487.62px;top:353.05px;width:30.19px;height:11.27px;line-height:11.27px">5,78</div>
<div class="t v b" style="left:517.81px;top:353.05px;width:30.19px;height:11.27px;line-height:11.27px">5,75</div>
<div class="t v b" style="left:548.00px;top:353.05px;width:30.19px;height:11.27px;line-height:11.27px">5,63</div>
<div class="t v b" style="left:578.18px;top:353.05px;width:30.19px;height:11.27px;line-height:11.27px">5,95</div>
<div class="t v b" style="left:608.38px;top:353.05px;width:30.19px;height:11.27px;line-height:11.27px">5,63</div>
<div style="position:absolute;left:48.40px;top:364.32px;width:589.60px;height:11.27px;background:#eef3e2"></div>
<div class="t b" style="left:51.90px;top:364.32px;height:11.27px;line-height:11.27px">Classe di efficienza energetica<span class="sup">8) 9)</span></div>
<div class="t v b" style="left:215.91px;top:364.32px;width:30.19px;height:11.27px;line-height:11.27px">A+++</div>
<div class="t v b" style="left:246.09px;top:364.32px;width:30.19px;height:11.27px;line-height:11.27px">A+++</div>
<div class="t v b" style="left:276.28px;top:364.32px;width:30.19px;height:11.27px;line-height:11.27px">A+++</div>
<div class="t v b" style="left:306.47px;top:364.32px;width:30.19px;height:11.27px;line-height:11.27px">A+++</div>
<div class="t v b" style="left:336.66px;top:364.32px;width:30.19px;height:11.27px;line-height:11.27px">A+++</div>
<div class="t v b" style="left:366.86px;top:364.32px;width:30.19px;height:11.27px;line-height:11.27px">A+++</div>
<div class="t v b" style="left:397.04px;top:364.32px;width:30.19px;height:11.27px;line-height:11.27px">A+++</div>
<div class="t v b" style="left:427.24px;top:364.32px;width:30.19px;height:11.27px;line-height:11.27px">A+++</div>
<div class="t v b" style="left:457.42px;top:364.32px;width:30.19px;height:11.27px;line-height:11.27px">—</div>
<div class="t v b" style="left:487.62px;top:364.32px;width:30.19px;height:11.27px;line-height:11.27px">—</div>
<div class="t v b" style="left:517.81px;top:364.32px;width:30.19px;height:11.27px;line-height:11.27px">—</div>
<div class="t v b" style="left:548.00px;top:364.32px;width:30.19px;height:11.27px;line-height:11.27px">—</div>
<div class="t v b" style="left:578.18px;top:364.32px;width:30.19px;height:11.27px;line-height:11.27px">—</div>
<div class="t v b" style="left:608.38px;top:364.32px;width:30.19px;height:11.27px;line-height:11.27px">—</div>
<div style="position:absolute;left:48.40px;top:375.59px;width:589.60px;height:11.27px;background:#eef3e2"></div>
<div class="t b" style="left:51.90px;top:375.59px;height:11.27px;line-height:11.27px"><span class="eta">η<sub>s,h</sub></span><span class="sup">8) 9)</span></div>
<div class="t v b" style="left:215.91px;top:375.59px;width:30.19px;height:11.27px;line-height:11.27px">204</div>
<div class="t v b" style="left:246.09px;top:375.59px;width:30.19px;height:11.27px;line-height:11.27px">210</div>
<div class="t v b" style="left:276.28px;top:375.59px;width:30.19px;height:11.27px;line-height:11.27px">205</div>
<div class="t v b" style="left:306.47px;top:375.59px;width:30.19px;height:11.27px;line-height:11.27px">194</div>
<div class="t v b" style="left:336.66px;top:375.59px;width:30.19px;height:11.27px;line-height:11.27px">185</div>
<div class="t v b" style="left:366.86px;top:375.59px;width:30.19px;height:11.27px;line-height:11.27px">203</div>
<div class="t v b" style="left:397.04px;top:375.59px;width:30.19px;height:11.27px;line-height:11.27px">220</div>
<div class="t v b" style="left:427.24px;top:375.59px;width:30.19px;height:11.27px;line-height:11.27px">227</div>
<div class="t v b" style="left:457.42px;top:375.59px;width:30.19px;height:11.27px;line-height:11.27px">220</div>
<div class="t v b" style="left:487.62px;top:375.59px;width:30.19px;height:11.27px;line-height:11.27px">223</div>
<div class="t v b" style="left:517.81px;top:375.59px;width:30.19px;height:11.27px;line-height:11.27px">222</div>
<div class="t v b" style="left:548.00px;top:375.59px;width:30.19px;height:11.27px;line-height:11.27px">217</div>
<div class="t v b" style="left:578.18px;top:375.59px;width:30.19px;height:11.27px;line-height:11.27px">230</div>
<div class="t v b" style="left:608.38px;top:375.59px;width:30.19px;height:11.27px;line-height:11.27px">217</div>
<div style="position:absolute;left:48.40px;top:386.86px;width:589.60px;height:11.27px;background:#eef3e2"></div>
<div class="t b" style="left:51.90px;top:386.86px;height:11.27px;line-height:11.27px">SCOP<span class="sup">8) 10)</span></div>
<div class="t v b" style="left:215.91px;top:386.86px;width:30.19px;height:11.27px;line-height:11.27px">4,00</div>
<div class="t v b" style="left:246.09px;top:386.86px;width:30.19px;height:11.27px;line-height:11.27px">4,48</div>
<div class="t v b" style="left:276.28px;top:386.86px;width:30.19px;height:11.27px;line-height:11.27px">4,45</div>
<div class="t v b" style="left:306.47px;top:386.86px;width:30.19px;height:11.27px;line-height:11.27px">4,30</div>
<div class="t v b" style="left:336.66px;top:386.86px;width:30.19px;height:11.27px;line-height:11.27px">4,28</div>
<div class="t v b" style="left:366.86px;top:386.86px;width:30.19px;height:11.27px;line-height:11.27px">4,45</div>
<div class="t v b" style="left:397.04px;top:386.86px;width:30.19px;height:11.27px;line-height:11.27px">4,63</div>
<div class="t v b" style="left:427.24px;top:386.86px;width:30.19px;height:11.27px;line-height:11.27px">4,78</div>
<div class="t v b" style="left:457.42px;top:386.86px;width:30.19px;height:11.27px;line-height:11.27px">4,75</div>
<div class="t v b" style="left:487.62px;top:386.86px;width:30.19px;height:11.27px;line-height:11.27px">4,75</div>
<div class="t v b" style="left:517.81px;top:386.86px;width:30.19px;height:11.27px;line-height:11.27px">4,73</div>
<div class="t v b" style="left:548.00px;top:386.86px;width:30.19px;height:11.27px;line-height:11.27px">4,48</div>
<div class="t v b" style="left:578.18px;top:386.86px;width:30.19px;height:11.27px;line-height:11.27px">4,88</div>
<div class="t v b" style="left:608.38px;top:386.86px;width:30.19px;height:11.27px;line-height:11.27px">4,68</div>
<div style="position:absolute;left:48.40px;top:398.13px;width:589.60px;height:11.27px;background:#eef3e2"></div>
<div class="t b" style="left:51.90px;top:398.13px;height:11.27px;line-height:11.27px">Classe di efficienza energetica<span class="sup">8) 10)</span></div>
<div class="t v b" style="left:215.91px;top:398.13px;width:30.19px;height:11.27px;line-height:11.27px">A+++</div>
<div class="t v b" style="left:246.09px;top:398.13px;width:30.19px;height:11.27px;line-height:11.27px">A+++</div>
<div class="t v b" style="left:276.28px;top:398.13px;width:30.19px;height:11.27px;line-height:11.27px">A+++</div>
<div class="t v b" style="left:306.47px;top:398.13px;width:30.19px;height:11.27px;line-height:11.27px">A+++</div>
<div class="t v b" style="left:336.66px;top:398.13px;width:30.19px;height:11.27px;line-height:11.27px">A+++</div>
<div class="t v b" style="left:366.86px;top:398.13px;width:30.19px;height:11.27px;line-height:11.27px">A+++</div>
<div class="t v b" style="left:397.04px;top:398.13px;width:30.19px;height:11.27px;line-height:11.27px">A+++</div>
<div class="t v b" style="left:427.24px;top:398.13px;width:30.19px;height:11.27px;line-height:11.27px">A+++</div>
<div class="t v b" style="left:457.42px;top:398.13px;width:30.19px;height:11.27px;line-height:11.27px">—</div>
<div class="t v b" style="left:487.62px;top:398.13px;width:30.19px;height:11.27px;line-height:11.27px">—</div>
<div class="t v b" style="left:517.81px;top:398.13px;width:30.19px;height:11.27px;line-height:11.27px">—</div>
<div class="t v b" style="left:548.00px;top:398.13px;width:30.19px;height:11.27px;line-height:11.27px">—</div>
<div class="t v b" style="left:578.18px;top:398.13px;width:30.19px;height:11.27px;line-height:11.27px">—</div>
<div class="t v b" style="left:608.38px;top:398.13px;width:30.19px;height:11.27px;line-height:11.27px">—</div>
<div style="position:absolute;left:48.40px;top:409.40px;width:589.60px;height:11.27px;background:#eef3e2"></div>
<div class="t b" style="left:51.90px;top:409.40px;height:11.27px;line-height:11.27px"><span class="eta">η<sub>s,h</sub></span><span class="sup">8) 10)</span></div>
<div class="t v b" style="left:215.91px;top:409.40px;width:30.19px;height:11.27px;line-height:11.27px">152</div>
<div class="t v b" style="left:246.09px;top:409.40px;width:30.19px;height:11.27px;line-height:11.27px">171</div>
<div class="t v b" style="left:276.28px;top:409.40px;width:30.19px;height:11.27px;line-height:11.27px">170</div>
<div class="t v b" style="left:306.47px;top:409.40px;width:30.19px;height:11.27px;line-height:11.27px">164</div>
<div class="t v b" style="left:336.66px;top:409.40px;width:30.19px;height:11.27px;line-height:11.27px">163</div>
<div class="t v b" style="left:366.86px;top:409.40px;width:30.19px;height:11.27px;line-height:11.27px">170</div>
<div class="t v b" style="left:397.04px;top:409.40px;width:30.19px;height:11.27px;line-height:11.27px">177</div>
<div class="t v b" style="left:427.24px;top:409.40px;width:30.19px;height:11.27px;line-height:11.27px">183</div>
<div class="t v b" style="left:457.42px;top:409.40px;width:30.19px;height:11.27px;line-height:11.27px">182</div>
<div class="t v b" style="left:487.62px;top:409.40px;width:30.19px;height:11.27px;line-height:11.27px">182</div>
<div class="t v b" style="left:517.81px;top:409.40px;width:30.19px;height:11.27px;line-height:11.27px">181</div>
<div class="t v b" style="left:548.00px;top:409.40px;width:30.19px;height:11.27px;line-height:11.27px">171</div>
<div class="t v b" style="left:578.18px;top:409.40px;width:30.19px;height:11.27px;line-height:11.27px">187</div>
<div class="t v b" style="left:608.38px;top:409.40px;width:30.19px;height:11.27px;line-height:11.27px">179</div>
<div class="t " style="left:51.90px;top:420.67px;height:11.27px;line-height:11.27px">Potenza sonora (STD / S)<span class="sup">4)</span></div>
<div class="t" style="left:193.50px;top:420.67px;width:24.00px;height:11.27px;line-height:11.27px;text-align:left;">dB(A)</div>
<div class="t v " style="left:215.91px;top:420.67px;width:30.19px;height:11.27px;line-height:11.27px">65 / 62</div>
<div class="t v " style="left:246.09px;top:420.67px;width:30.19px;height:11.27px;line-height:11.27px">67 / 64</div>
<div class="t v " style="left:276.28px;top:420.67px;width:30.19px;height:11.27px;line-height:11.27px">67 / 64</div>
<div class="t v " style="left:306.47px;top:420.67px;width:30.19px;height:11.27px;line-height:11.27px">68 / 65</div>
<div class="t v " style="left:336.66px;top:420.67px;width:30.19px;height:11.27px;line-height:11.27px">69 / 66</div>
<div class="t v " style="left:366.86px;top:420.67px;width:30.19px;height:11.27px;line-height:11.27px">70 / 67</div>
<div class="t v " style="left:397.04px;top:420.67px;width:30.19px;height:11.27px;line-height:11.27px">70 / 68</div>
<div class="t v " style="left:427.24px;top:420.67px;width:30.19px;height:11.27px;line-height:11.27px">70 / 68</div>
<div class="t v " style="left:457.42px;top:420.67px;width:30.19px;height:11.27px;line-height:11.27px">72 / 70</div>
<div class="t v " style="left:487.62px;top:420.67px;width:30.19px;height:11.27px;line-height:11.27px">73 / 71</div>
<div class="t v " style="left:517.81px;top:420.67px;width:30.19px;height:11.27px;line-height:11.27px">78 / 76</div>
<div class="t v " style="left:548.00px;top:420.67px;width:30.19px;height:11.27px;line-height:11.27px">81 / 79</div>
<div class="t v " style="left:578.18px;top:420.67px;width:30.19px;height:11.27px;line-height:11.27px">81 / 79</div>
<div class="t v " style="left:608.38px;top:420.67px;width:30.19px;height:11.27px;line-height:11.27px">81 / 79</div>
<div class="t " style="left:51.90px;top:431.94px;height:11.27px;line-height:11.27px">Pressione sonora a 10 m (STD / S)<span class="sup">5)</span></div>
<div class="t" style="left:193.50px;top:431.94px;width:24.00px;height:11.27px;line-height:11.27px;text-align:left;">dB(A)</div>
<div class="t v " style="left:215.91px;top:431.94px;width:30.19px;height:11.27px;line-height:11.27px">34 / 31</div>
<div class="t v " style="left:246.09px;top:431.94px;width:30.19px;height:11.27px;line-height:11.27px">36 / 33</div>
<div class="t v " style="left:276.28px;top:431.94px;width:30.19px;height:11.27px;line-height:11.27px">36 / 33</div>
<div class="t v " style="left:306.47px;top:431.94px;width:30.19px;height:11.27px;line-height:11.27px">37 / 34</div>
<div class="t v " style="left:336.66px;top:431.94px;width:30.19px;height:11.27px;line-height:11.27px">38 / 35</div>
<div class="t v " style="left:366.86px;top:431.94px;width:30.19px;height:11.27px;line-height:11.27px">39 / 36</div>
<div class="t v " style="left:397.04px;top:431.94px;width:30.19px;height:11.27px;line-height:11.27px">39 / 37</div>
<div class="t v " style="left:427.24px;top:431.94px;width:30.19px;height:11.27px;line-height:11.27px">39 / 37</div>
<div class="t v " style="left:457.42px;top:431.94px;width:30.19px;height:11.27px;line-height:11.27px">40 / 39</div>
<div class="t v " style="left:487.62px;top:431.94px;width:30.19px;height:11.27px;line-height:11.27px">42 / 40</div>
<div class="t v " style="left:517.81px;top:431.94px;width:30.19px;height:11.27px;line-height:11.27px">47 / 45</div>
<div class="t v " style="left:548.00px;top:431.94px;width:30.19px;height:11.27px;line-height:11.27px">50 / 48</div>
<div class="t v " style="left:578.18px;top:431.94px;width:30.19px;height:11.27px;line-height:11.27px">50 / 48</div>
<div class="t v " style="left:608.38px;top:431.94px;width:30.19px;height:11.27px;line-height:11.27px">50 / 48</div>
<div class="t b" style="left:51.90px;top:445.91px;width:90px;line-height:8.8px">ECOi-W WQ 20-190 R -<br>unità motoevaporante</div>
<div class="t b" style="left:132.40px;top:443.21px;height:22.54px;line-height:22.54px;letter-spacing:0.26px">P-WQE****RA</div>
<div class="t v b" style="left:215.91px;top:443.21px;width:30.19px;height:22.54px;line-height:22.54px">0020</div>
<div class="t v b" style="left:246.09px;top:443.21px;width:30.19px;height:22.54px;line-height:22.54px">0025</div>
<div class="t v b" style="left:276.28px;top:443.21px;width:30.19px;height:22.54px;line-height:22.54px">0030</div>
<div class="t v b" style="left:306.47px;top:443.21px;width:30.19px;height:22.54px;line-height:22.54px">0035</div>
<div class="t v b" style="left:336.66px;top:443.21px;width:30.19px;height:22.54px;line-height:22.54px">0040</div>
<div class="t v b" style="left:366.86px;top:443.21px;width:30.19px;height:22.54px;line-height:22.54px">0045</div>
<div class="t v b" style="left:397.04px;top:443.21px;width:30.19px;height:22.54px;line-height:22.54px">0050</div>
<div class="t v b" style="left:427.24px;top:443.21px;width:30.19px;height:22.54px;line-height:22.54px">0060</div>
<div class="t v b" style="left:457.42px;top:443.21px;width:30.19px;height:22.54px;line-height:22.54px">0075</div>
<div class="t v b" style="left:487.62px;top:443.21px;width:30.19px;height:22.54px;line-height:22.54px">0090</div>
<div class="t v b" style="left:517.81px;top:443.21px;width:30.19px;height:22.54px;line-height:22.54px">0120</div>
<div class="t v b" style="left:548.00px;top:443.21px;width:30.19px;height:22.54px;line-height:22.54px">0150</div>
<div class="t v b" style="left:578.18px;top:443.21px;width:30.19px;height:22.54px;line-height:22.54px">0170</div>
<div class="t v b" style="left:608.38px;top:443.21px;width:30.19px;height:22.54px;line-height:22.54px">0190</div>
<div style="position:absolute;left:48.40px;top:465.75px;width:589.60px;height:11.27px;background:#e3edf8"></div>
<div class="t " style="left:51.90px;top:465.75px;height:11.27px;line-height:11.27px">Capacità di raffrescamento<span class="sup">11)</span></div>
<div class="t" style="left:193.50px;top:465.75px;width:24.00px;height:11.27px;line-height:11.27px;text-align:left;">kW</div>
<div class="t v " style="left:215.91px;top:465.75px;width:30.19px;height:11.27px;line-height:11.27px">18,3</div>
<div class="t v " style="left:246.09px;top:465.75px;width:30.19px;height:11.27px;line-height:11.27px">22,7</div>
<div class="t v " style="left:276.28px;top:465.75px;width:30.19px;height:11.27px;line-height:11.27px">27,1</div>
<div class="t v " style="left:306.47px;top:465.75px;width:30.19px;height:11.27px;line-height:11.27px">30,0</div>
<div class="t v " style="left:336.66px;top:465.75px;width:30.19px;height:11.27px;line-height:11.27px">34,2</div>
<div class="t v " style="left:366.86px;top:465.75px;width:30.19px;height:11.27px;line-height:11.27px">43,1</div>
<div class="t v " style="left:397.04px;top:465.75px;width:30.19px;height:11.27px;line-height:11.27px">45,0</div>
<div class="t v " style="left:427.24px;top:465.75px;width:30.19px;height:11.27px;line-height:11.27px">53,4</div>
<div class="t v " style="left:457.42px;top:465.75px;width:30.19px;height:11.27px;line-height:11.27px">67,5</div>
<div class="t v " style="left:487.62px;top:465.75px;width:30.19px;height:11.27px;line-height:11.27px">80,1</div>
<div class="t v " style="left:517.81px;top:465.75px;width:30.19px;height:11.27px;line-height:11.27px">104,0</div>
<div class="t v " style="left:548.00px;top:465.75px;width:30.19px;height:11.27px;line-height:11.27px">128,0</div>
<div class="t v " style="left:578.18px;top:465.75px;width:30.19px;height:11.27px;line-height:11.27px">148,0</div>
<div class="t v " style="left:608.38px;top:465.75px;width:30.19px;height:11.27px;line-height:11.27px">168,0</div>
<div style="position:absolute;left:48.40px;top:477.02px;width:589.60px;height:11.27px;background:#e3edf8"></div>
<div class="t " style="left:51.90px;top:477.02px;height:11.27px;line-height:11.27px">Potenza d’ingresso<span class="sup">11)</span></div>
<div class="t" style="left:193.50px;top:477.02px;width:24.00px;height:11.27px;line-height:11.27px;text-align:left;">kW</div>
<div class="t v " style="left:215.91px;top:477.02px;width:30.19px;height:11.27px;line-height:11.27px">5,70</div>
<div class="t v " style="left:246.09px;top:477.02px;width:30.19px;height:11.27px;line-height:11.27px">6,97</div>
<div class="t v " style="left:276.28px;top:477.02px;width:30.19px;height:11.27px;line-height:11.27px">8,07</div>
<div class="t v " style="left:306.47px;top:477.02px;width:30.19px;height:11.27px;line-height:11.27px">9,15</div>
<div class="t v " style="left:336.66px;top:477.02px;width:30.19px;height:11.27px;line-height:11.27px">10,1</div>
<div class="t v " style="left:366.86px;top:477.02px;width:30.19px;height:11.27px;line-height:11.27px">12,2</div>
<div class="t v " style="left:397.04px;top:477.02px;width:30.19px;height:11.27px;line-height:11.27px">13,7</div>
<div class="t v " style="left:427.24px;top:477.02px;width:30.19px;height:11.27px;line-height:11.27px">16</div>
<div class="t v " style="left:457.42px;top:477.02px;width:30.19px;height:11.27px;line-height:11.27px">20,1</div>
<div class="t v " style="left:487.62px;top:477.02px;width:30.19px;height:11.27px;line-height:11.27px">23,9</div>
<div class="t v " style="left:517.81px;top:477.02px;width:30.19px;height:11.27px;line-height:11.27px">30,8</div>
<div class="t v " style="left:548.00px;top:477.02px;width:30.19px;height:11.27px;line-height:11.27px">38,1</div>
<div class="t v " style="left:578.18px;top:477.02px;width:30.19px;height:11.27px;line-height:11.27px">44,2</div>
<div class="t v " style="left:608.38px;top:477.02px;width:30.19px;height:11.27px;line-height:11.27px">49,7</div>
<div class="t " style="left:51.90px;top:488.29px;height:11.27px;line-height:11.27px">Potenza sonora (STD / S)<span class="sup">4)</span></div>
<div class="t" style="left:193.50px;top:488.29px;width:24.00px;height:11.27px;line-height:11.27px;text-align:left;">dB(A)</div>
<div class="t v " style="left:215.91px;top:488.29px;width:30.19px;height:11.27px;line-height:11.27px">65/62</div>
<div class="t v " style="left:246.09px;top:488.29px;width:30.19px;height:11.27px;line-height:11.27px">67 / 64</div>
<div class="t v " style="left:276.28px;top:488.29px;width:30.19px;height:11.27px;line-height:11.27px">67 / 64</div>
<div class="t v " style="left:306.47px;top:488.29px;width:30.19px;height:11.27px;line-height:11.27px">68 / 65</div>
<div class="t v " style="left:336.66px;top:488.29px;width:30.19px;height:11.27px;line-height:11.27px">69 / 66</div>
<div class="t v " style="left:366.86px;top:488.29px;width:30.19px;height:11.27px;line-height:11.27px">70 / 67</div>
<div class="t v " style="left:397.04px;top:488.29px;width:30.19px;height:11.27px;line-height:11.27px">70 / 68</div>
<div class="t v " style="left:427.24px;top:488.29px;width:30.19px;height:11.27px;line-height:11.27px">70 / 68</div>
<div class="t v " style="left:457.42px;top:488.29px;width:30.19px;height:11.27px;line-height:11.27px">72 / 70</div>
<div class="t v " style="left:487.62px;top:488.29px;width:30.19px;height:11.27px;line-height:11.27px">73 / 71</div>
<div class="t v " style="left:517.81px;top:488.29px;width:30.19px;height:11.27px;line-height:11.27px">78 / 76</div>
<div class="t v " style="left:548.00px;top:488.29px;width:30.19px;height:11.27px;line-height:11.27px">81 / 79</div>
<div class="t v " style="left:578.18px;top:488.29px;width:30.19px;height:11.27px;line-height:11.27px">81 / 79</div>
<div class="t v " style="left:608.38px;top:488.29px;width:30.19px;height:11.27px;line-height:11.27px">81 / 79</div>
<div class="t " style="left:51.90px;top:499.56px;height:11.27px;line-height:11.27px">Pressione sonora a 10 m (STD / S)<span class="sup">5)</span></div>
<div class="t" style="left:193.50px;top:499.56px;width:24.00px;height:11.27px;line-height:11.27px;text-align:left;">dB(A)</div>
<div class="t v " style="left:215.91px;top:499.56px;width:30.19px;height:11.27px;line-height:11.27px">34/31</div>
<div class="t v " style="left:246.09px;top:499.56px;width:30.19px;height:11.27px;line-height:11.27px">36 / 33</div>
<div class="t v " style="left:276.28px;top:499.56px;width:30.19px;height:11.27px;line-height:11.27px">36 / 33</div>
<div class="t v " style="left:306.47px;top:499.56px;width:30.19px;height:11.27px;line-height:11.27px">37 / 34</div>
<div class="t v " style="left:336.66px;top:499.56px;width:30.19px;height:11.27px;line-height:11.27px">38 / 35</div>
<div class="t v " style="left:366.86px;top:499.56px;width:30.19px;height:11.27px;line-height:11.27px">39 / 36</div>
<div class="t v " style="left:397.04px;top:499.56px;width:30.19px;height:11.27px;line-height:11.27px">39 / 37</div>
<div class="t v " style="left:427.24px;top:499.56px;width:30.19px;height:11.27px;line-height:11.27px">39 / 37</div>
<div class="t v " style="left:457.42px;top:499.56px;width:30.19px;height:11.27px;line-height:11.27px">41 / 39</div>
<div class="t v " style="left:487.62px;top:499.56px;width:30.19px;height:11.27px;line-height:11.27px">42 / 40</div>
<div class="t v " style="left:517.81px;top:499.56px;width:30.19px;height:11.27px;line-height:11.27px">47 / 45</div>
<div class="t v " style="left:548.00px;top:499.56px;width:30.19px;height:11.27px;line-height:11.27px">50 / 48</div>
<div class="t v " style="left:578.18px;top:499.56px;width:30.19px;height:11.27px;line-height:11.27px">50 / 48</div>
<div class="t v " style="left:608.38px;top:499.56px;width:30.19px;height:11.27px;line-height:11.27px">50 / 48</div>
<div style="position:absolute;left:48.40px;top:70.80px;width:589.60px;height:1px;background:#aaaaaa"></div>
<div style="position:absolute;left:129.00px;top:82.07px;width:509.00px;height:1px;background:#aaaaaa"></div>
<div style="position:absolute;left:129.00px;top:104.61px;width:509.00px;height:1px;background:#aaaaaa"></div>
<div style="position:absolute;left:48.40px;top:115.88px;width:589.60px;height:1px;background:#aaaaaa"></div>
<div style="position:absolute;left:48.40px;top:127.15px;width:589.60px;height:1px;background:#aaaaaa"></div>
<div style="position:absolute;left:48.40px;top:149.69px;width:589.60px;height:1px;background:#aaaaaa"></div>
<div style="position:absolute;left:48.40px;top:160.96px;width:589.60px;height:1px;background:#aaaaaa"></div>
<div style="position:absolute;left:48.40px;top:172.23px;width:589.60px;height:1px;background:#aaaaaa"></div>
<div style="position:absolute;left:48.40px;top:183.50px;width:589.60px;height:1px;background:#aaaaaa"></div>
<div style="position:absolute;left:48.40px;top:194.77px;width:589.60px;height:1px;background:#aaaaaa"></div>
<div style="position:absolute;left:48.40px;top:206.04px;width:589.60px;height:1px;background:#aaaaaa"></div>
<div style="position:absolute;left:48.40px;top:217.31px;width:589.60px;height:1px;background:#aaaaaa"></div>
<div style="position:absolute;left:48.40px;top:228.58px;width:589.60px;height:1px;background:#aaaaaa"></div>
<div style="position:absolute;left:48.40px;top:251.12px;width:589.60px;height:1px;background:#aaaaaa"></div>
<div style="position:absolute;left:48.40px;top:262.39px;width:589.60px;height:1px;background:#aaaaaa"></div>
<div style="position:absolute;left:48.40px;top:273.66px;width:589.60px;height:1px;background:#aaaaaa"></div>
<div style="position:absolute;left:48.40px;top:284.93px;width:589.60px;height:1px;background:#aaaaaa"></div>
<div style="position:absolute;left:48.40px;top:296.20px;width:589.60px;height:1px;background:#aaaaaa"></div>
<div style="position:absolute;left:48.40px;top:307.47px;width:589.60px;height:1px;background:#aaaaaa"></div>
<div style="position:absolute;left:48.40px;top:318.74px;width:589.60px;height:1px;background:#aaaaaa"></div>
<div style="position:absolute;left:48.40px;top:330.01px;width:589.60px;height:1px;background:#aaaaaa"></div>
<div style="position:absolute;left:48.40px;top:341.28px;width:589.60px;height:1px;background:#aaaaaa"></div>
<div style="position:absolute;left:48.40px;top:352.55px;width:589.60px;height:1px;background:#aaaaaa"></div>
<div style="position:absolute;left:48.40px;top:363.82px;width:589.60px;height:1px;background:#aaaaaa"></div>
<div style="position:absolute;left:48.40px;top:375.09px;width:589.60px;height:1px;background:#aaaaaa"></div>
<div style="position:absolute;left:48.40px;top:386.36px;width:589.60px;height:1px;background:#aaaaaa"></div>
<div style="position:absolute;left:48.40px;top:397.63px;width:589.60px;height:1px;background:#aaaaaa"></div>
<div style="position:absolute;left:48.40px;top:408.90px;width:589.60px;height:1px;background:#aaaaaa"></div>
<div style="position:absolute;left:48.40px;top:420.17px;width:589.60px;height:1px;background:#aaaaaa"></div>
<div style="position:absolute;left:48.40px;top:431.44px;width:589.60px;height:1px;background:#aaaaaa"></div>
<div style="position:absolute;left:48.40px;top:442.71px;width:589.60px;height:1px;background:#aaaaaa"></div>
<div style="position:absolute;left:48.40px;top:465.25px;width:589.60px;height:1px;background:#aaaaaa"></div>
<div style="position:absolute;left:48.40px;top:476.52px;width:589.60px;height:1px;background:#aaaaaa"></div>
<div style="position:absolute;left:48.40px;top:487.79px;width:589.60px;height:1px;background:#aaaaaa"></div>
<div style="position:absolute;left:48.40px;top:499.06px;width:589.60px;height:1px;background:#aaaaaa"></div>
<div style="position:absolute;left:48.40px;top:510.33px;width:589.60px;height:1px;background:#aaaaaa"></div>
<div class="t b" style="left:51.90px;top:556.90px;width:170px;line-height:9.0px">ECOi-W WQ 20-190 C/H - solo freddo / pompa di<br>calore</div>
<div class="t v b" style="left:215.91px;top:555.90px;width:30.19px;height:19.80px;line-height:19.80px">20</div>
<div class="t v b" style="left:246.09px;top:555.90px;width:30.19px;height:19.80px;line-height:19.80px">25</div>
<div class="t v b" style="left:276.28px;top:555.90px;width:30.19px;height:19.80px;line-height:19.80px">30</div>
<div class="t v b" style="left:306.47px;top:555.90px;width:30.19px;height:19.80px;line-height:19.80px">35</div>
<div class="t v b" style="left:336.66px;top:555.90px;width:30.19px;height:19.80px;line-height:19.80px">40</div>
<div class="t v b" style="left:366.86px;top:555.90px;width:30.19px;height:19.80px;line-height:19.80px">45</div>
<div class="t v b" style="left:397.04px;top:555.90px;width:30.19px;height:19.80px;line-height:19.80px">50</div>
<div class="t v b" style="left:427.24px;top:555.90px;width:30.19px;height:19.80px;line-height:19.80px">60</div>
<div class="t v b" style="left:457.42px;top:555.90px;width:30.19px;height:19.80px;line-height:19.80px">75</div>
<div class="t v b" style="left:487.62px;top:555.90px;width:30.19px;height:19.80px;line-height:19.80px">90</div>
<div class="t v b" style="left:517.81px;top:555.90px;width:30.19px;height:19.80px;line-height:19.80px">120</div>
<div class="t v b" style="left:548.00px;top:555.90px;width:30.19px;height:19.80px;line-height:19.80px">150</div>
<div class="t v b" style="left:578.18px;top:555.90px;width:30.19px;height:19.80px;line-height:19.80px">170</div>
<div class="t v b" style="left:608.38px;top:555.90px;width:30.19px;height:19.80px;line-height:19.80px">190</div>
<div class="t" style="left:132.50px;top:575.70px;width:70.00px;height:11.30px;line-height:11.30px;text-align:left;">Altezza</div>
<div class="t" style="left:193.50px;top:575.70px;width:24.00px;height:11.30px;line-height:11.30px;text-align:left;">mm</div>
<div class="t v " style="left:215.91px;top:575.70px;width:30.19px;height:11.30px;line-height:11.30px">1350</div>
<div class="t v " style="left:246.09px;top:575.70px;width:30.19px;height:11.30px;line-height:11.30px">1350</div>
<div class="t v " style="left:276.28px;top:575.70px;width:30.19px;height:11.30px;line-height:11.30px">1350</div>
<div class="t v " style="left:306.47px;top:575.70px;width:30.19px;height:11.30px;line-height:11.30px">1350</div>
<div class="t v " style="left:336.66px;top:575.70px;width:30.19px;height:11.30px;line-height:11.30px">1350</div>
<div class="t v " style="left:366.86px;top:575.70px;width:30.19px;height:11.30px;line-height:11.30px">1350</div>
<div class="t v " style="left:397.04px;top:575.70px;width:30.19px;height:11.30px;line-height:11.30px">1500</div>
<div class="t v " style="left:427.24px;top:575.70px;width:30.19px;height:11.30px;line-height:11.30px">1500</div>
<div class="t v " style="left:457.42px;top:575.70px;width:30.19px;height:11.30px;line-height:11.30px">1500</div>
<div class="t v " style="left:487.62px;top:575.70px;width:30.19px;height:11.30px;line-height:11.30px">1500</div>
<div class="t v " style="left:517.81px;top:575.70px;width:30.19px;height:11.30px;line-height:11.30px">1500</div>
<div class="t v " style="left:548.00px;top:575.70px;width:30.19px;height:11.30px;line-height:11.30px">1500</div>
<div class="t v " style="left:578.18px;top:575.70px;width:30.19px;height:11.30px;line-height:11.30px">1500</div>
<div class="t v " style="left:608.38px;top:575.70px;width:30.19px;height:11.30px;line-height:11.30px">1500</div>
<div class="t" style="left:132.50px;top:587.00px;width:70.00px;height:11.30px;line-height:11.30px;text-align:left;">Profondità</div>
<div class="t" style="left:193.50px;top:587.00px;width:24.00px;height:11.30px;line-height:11.30px;text-align:left;">mm</div>
<div class="t v " style="left:215.91px;top:587.00px;width:30.19px;height:11.30px;line-height:11.30px">455</div>
<div class="t v " style="left:246.09px;top:587.00px;width:30.19px;height:11.30px;line-height:11.30px">455</div>
<div class="t v " style="left:276.28px;top:587.00px;width:30.19px;height:11.30px;line-height:11.30px">455</div>
<div class="t v " style="left:306.47px;top:587.00px;width:30.19px;height:11.30px;line-height:11.30px">455</div>
<div class="t v " style="left:336.66px;top:587.00px;width:30.19px;height:11.30px;line-height:11.30px">455</div>
<div class="t v " style="left:366.86px;top:587.00px;width:30.19px;height:11.30px;line-height:11.30px">455</div>
<div class="t v " style="left:397.04px;top:587.00px;width:30.19px;height:11.30px;line-height:11.30px">850</div>
<div class="t v " style="left:427.24px;top:587.00px;width:30.19px;height:11.30px;line-height:11.30px">850</div>
<div class="t v " style="left:457.42px;top:587.00px;width:30.19px;height:11.30px;line-height:11.30px">850</div>
<div class="t v " style="left:487.62px;top:587.00px;width:30.19px;height:11.30px;line-height:11.30px">850</div>
<div class="t v " style="left:517.81px;top:587.00px;width:30.19px;height:11.30px;line-height:11.30px">850</div>
<div class="t v " style="left:548.00px;top:587.00px;width:30.19px;height:11.30px;line-height:11.30px">850</div>
<div class="t v " style="left:578.18px;top:587.00px;width:30.19px;height:11.30px;line-height:11.30px">850</div>
<div class="t v " style="left:608.38px;top:587.00px;width:30.19px;height:11.30px;line-height:11.30px">850</div>
<div class="t" style="left:132.50px;top:598.30px;width:70.00px;height:11.30px;line-height:11.30px;text-align:left;">Larghezza</div>
<div class="t" style="left:51.90px;top:575.70px;width:80.00px;height:33.90px;line-height:33.90px;text-align:left;">Dimensione</div>
<div class="t" style="left:193.50px;top:598.30px;width:24.00px;height:11.30px;line-height:11.30px;text-align:left;">mm</div>
<div class="t v " style="left:215.91px;top:598.30px;width:30.19px;height:11.30px;line-height:11.30px">821</div>
<div class="t v " style="left:246.09px;top:598.30px;width:30.19px;height:11.30px;line-height:11.30px">821</div>
<div class="t v " style="left:276.28px;top:598.30px;width:30.19px;height:11.30px;line-height:11.30px">821</div>
<div class="t v " style="left:306.47px;top:598.30px;width:30.19px;height:11.30px;line-height:11.30px">821</div>
<div class="t v " style="left:336.66px;top:598.30px;width:30.19px;height:11.30px;line-height:11.30px">821</div>
<div class="t v " style="left:366.86px;top:598.30px;width:30.19px;height:11.30px;line-height:11.30px">821</div>
<div class="t v " style="left:397.04px;top:598.30px;width:30.19px;height:11.30px;line-height:11.30px">1210</div>
<div class="t v " style="left:427.24px;top:598.30px;width:30.19px;height:11.30px;line-height:11.30px">1210</div>
<div class="t v " style="left:457.42px;top:598.30px;width:30.19px;height:11.30px;line-height:11.30px">1210</div>
<div class="t v " style="left:487.62px;top:598.30px;width:30.19px;height:11.30px;line-height:11.30px">1210</div>
<div class="t v " style="left:517.81px;top:598.30px;width:30.19px;height:11.30px;line-height:11.30px">1210</div>
<div class="t v " style="left:548.00px;top:598.30px;width:30.19px;height:11.30px;line-height:11.30px">1210</div>
<div class="t v " style="left:578.18px;top:598.30px;width:30.19px;height:11.30px;line-height:11.30px">1210</div>
<div class="t v " style="left:608.38px;top:598.30px;width:30.19px;height:11.30px;line-height:11.30px">1210</div>
<div class="t" style="left:132.50px;top:609.60px;width:70.00px;height:11.30px;line-height:11.30px;text-align:left;">Solo freddo</div>
<div class="t" style="left:193.50px;top:609.60px;width:24.00px;height:11.30px;line-height:11.30px;text-align:left;">kg</div>
<div class="t v " style="left:215.91px;top:609.60px;width:30.19px;height:11.30px;line-height:11.30px">162</div>
<div class="t v " style="left:246.09px;top:609.60px;width:30.19px;height:11.30px;line-height:11.30px">182</div>
<div class="t v " style="left:276.28px;top:609.60px;width:30.19px;height:11.30px;line-height:11.30px">179</div>
<div class="t v " style="left:306.47px;top:609.60px;width:30.19px;height:11.30px;line-height:11.30px">185</div>
<div class="t v " style="left:336.66px;top:609.60px;width:30.19px;height:11.30px;line-height:11.30px">191</div>
<div class="t v " style="left:366.86px;top:609.60px;width:30.19px;height:11.30px;line-height:11.30px">214</div>
<div class="t v " style="left:397.04px;top:609.60px;width:30.19px;height:11.30px;line-height:11.30px">352</div>
<div class="t v " style="left:427.24px;top:609.60px;width:30.19px;height:11.30px;line-height:11.30px">371</div>
<div class="t v " style="left:457.42px;top:609.60px;width:30.19px;height:11.30px;line-height:11.30px">392</div>
<div class="t v " style="left:487.62px;top:609.60px;width:30.19px;height:11.30px;line-height:11.30px">411</div>
<div class="t v " style="left:517.81px;top:609.60px;width:30.19px;height:11.30px;line-height:11.30px">597</div>
<div class="t v " style="left:548.00px;top:609.60px;width:30.19px;height:11.30px;line-height:11.30px">666</div>
<div class="t v " style="left:578.18px;top:609.60px;width:30.19px;height:11.30px;line-height:11.30px">701</div>
<div class="t v " style="left:608.38px;top:609.60px;width:30.19px;height:11.30px;line-height:11.30px">745</div>
<div class="t" style="left:132.50px;top:620.90px;width:70.00px;height:11.30px;line-height:11.30px;text-align:left;">Pompa di calore</div>
<div class="t" style="left:51.90px;top:609.60px;width:80.00px;height:22.60px;line-height:22.60px;text-align:left;">Peso operativo</div>
<div class="t" style="left:193.50px;top:620.90px;width:24.00px;height:11.30px;line-height:11.30px;text-align:left;">kg</div>
<div class="t v " style="left:215.91px;top:620.90px;width:30.19px;height:11.30px;line-height:11.30px">165</div>
<div class="t v " style="left:246.09px;top:620.90px;width:30.19px;height:11.30px;line-height:11.30px">187</div>
<div class="t v " style="left:276.28px;top:620.90px;width:30.19px;height:11.30px;line-height:11.30px">184</div>
<div class="t v " style="left:306.47px;top:620.90px;width:30.19px;height:11.30px;line-height:11.30px">190</div>
<div class="t v " style="left:336.66px;top:620.90px;width:30.19px;height:11.30px;line-height:11.30px">195</div>
<div class="t v " style="left:366.86px;top:620.90px;width:30.19px;height:11.30px;line-height:11.30px">219</div>
<div class="t v " style="left:397.04px;top:620.90px;width:30.19px;height:11.30px;line-height:11.30px">360</div>
<div class="t v " style="left:427.24px;top:620.90px;width:30.19px;height:11.30px;line-height:11.30px">379</div>
<div class="t v " style="left:457.42px;top:620.90px;width:30.19px;height:11.30px;line-height:11.30px">403</div>
<div class="t v " style="left:487.62px;top:620.90px;width:30.19px;height:11.30px;line-height:11.30px">422</div>
<div class="t v " style="left:517.81px;top:620.90px;width:30.19px;height:11.30px;line-height:11.30px">610</div>
<div class="t v " style="left:548.00px;top:620.90px;width:30.19px;height:11.30px;line-height:11.30px">683</div>
<div class="t v " style="left:578.18px;top:620.90px;width:30.19px;height:11.30px;line-height:11.30px">718</div>
<div class="t v " style="left:608.38px;top:620.90px;width:30.19px;height:11.30px;line-height:11.30px">762</div>
<div class="t b" style="left:51.90px;top:632.20px;height:11.30px;line-height:11.30px">Connessione acqua (evaporatore e condensatore)</div>
<div class="t " style="left:51.90px;top:643.50px;height:11.30px;line-height:11.30px">Tipo di connessione</div>
<div class="t v  sm" style="left:215.91px;top:643.50px;width:30.19px;height:11.30px;line-height:11.30px">Victaulic<sup class="r">®</sup></div>
<div class="t v  sm" style="left:246.09px;top:643.50px;width:30.19px;height:11.30px;line-height:11.30px">Victaulic<sup class="r">®</sup></div>
<div class="t v  sm" style="left:276.28px;top:643.50px;width:30.19px;height:11.30px;line-height:11.30px">Victaulic<sup class="r">®</sup></div>
<div class="t v  sm" style="left:306.47px;top:643.50px;width:30.19px;height:11.30px;line-height:11.30px">Victaulic<sup class="r">®</sup></div>
<div class="t v  sm" style="left:336.66px;top:643.50px;width:30.19px;height:11.30px;line-height:11.30px">Victaulic<sup class="r">®</sup></div>
<div class="t v  sm" style="left:366.86px;top:643.50px;width:30.19px;height:11.30px;line-height:11.30px">Victaulic<sup class="r">®</sup></div>
<div class="t v  sm" style="left:397.04px;top:643.50px;width:30.19px;height:11.30px;line-height:11.30px">Victaulic<sup class="r">®</sup></div>
<div class="t v  sm" style="left:427.24px;top:643.50px;width:30.19px;height:11.30px;line-height:11.30px">Victaulic<sup class="r">®</sup></div>
<div class="t v  sm" style="left:457.42px;top:643.50px;width:30.19px;height:11.30px;line-height:11.30px">Victaulic<sup class="r">®</sup></div>
<div class="t v  sm" style="left:487.62px;top:643.50px;width:30.19px;height:11.30px;line-height:11.30px">Victaulic<sup class="r">®</sup></div>
<div class="t v  sm" style="left:517.81px;top:643.50px;width:30.19px;height:11.30px;line-height:11.30px">Victaulic<sup class="r">®</sup></div>
<div class="t v  sm" style="left:548.00px;top:643.50px;width:30.19px;height:11.30px;line-height:11.30px">Victaulic<sup class="r">®</sup></div>
<div class="t v  sm" style="left:578.18px;top:643.50px;width:30.19px;height:11.30px;line-height:11.30px">Victaulic<sup class="r">®</sup></div>
<div class="t v  sm" style="left:608.38px;top:643.50px;width:30.19px;height:11.30px;line-height:11.30px">Victaulic<sup class="r">®</sup></div>
<div class="t " style="left:51.90px;top:654.80px;height:11.30px;line-height:11.30px">Diametro ingresso/uscita</div>
<div class="t" style="left:193.50px;top:654.80px;width:24.00px;height:11.30px;line-height:11.30px;text-align:left;">Pollici</div>
<div class="t v " style="left:215.91px;top:654.80px;width:30.19px;height:11.30px;line-height:11.30px">1 ½</div>
<div class="t v " style="left:246.09px;top:654.80px;width:30.19px;height:11.30px;line-height:11.30px">1 ½</div>
<div class="t v " style="left:276.28px;top:654.80px;width:30.19px;height:11.30px;line-height:11.30px">1 ½</div>
<div class="t v " style="left:306.47px;top:654.80px;width:30.19px;height:11.30px;line-height:11.30px">1 ½</div>
<div class="t v " style="left:336.66px;top:654.80px;width:30.19px;height:11.30px;line-height:11.30px">1 ½</div>
<div class="t v " style="left:366.86px;top:654.80px;width:30.19px;height:11.30px;line-height:11.30px">1 ½</div>
<div class="t v " style="left:397.04px;top:654.80px;width:30.19px;height:11.30px;line-height:11.30px">2 ½</div>
<div class="t v " style="left:427.24px;top:654.80px;width:30.19px;height:11.30px;line-height:11.30px">2 ½</div>
<div class="t v " style="left:457.42px;top:654.80px;width:30.19px;height:11.30px;line-height:11.30px">2 ½</div>
<div class="t v " style="left:487.62px;top:654.80px;width:30.19px;height:11.30px;line-height:11.30px">2 ½</div>
<div class="t v " style="left:517.81px;top:654.80px;width:30.19px;height:11.30px;line-height:11.30px">2 ½</div>
<div class="t v " style="left:548.00px;top:654.80px;width:30.19px;height:11.30px;line-height:11.30px">2 ½</div>
<div class="t v " style="left:578.18px;top:654.80px;width:30.19px;height:11.30px;line-height:11.30px">2 ½</div>
<div class="t v " style="left:608.38px;top:654.80px;width:30.19px;height:11.30px;line-height:11.30px">2 ½</div>
<div class="t b" style="left:51.90px;top:666.10px;height:11.30px;line-height:11.30px">ECOi-W WQ 20-190 R - unità motoevaporante</div>
<div class="t v b" style="left:215.91px;top:666.10px;width:30.19px;height:11.30px;line-height:11.30px">20</div>
<div class="t v b" style="left:246.09px;top:666.10px;width:30.19px;height:11.30px;line-height:11.30px">25</div>
<div class="t v b" style="left:276.28px;top:666.10px;width:30.19px;height:11.30px;line-height:11.30px">30</div>
<div class="t v b" style="left:306.47px;top:666.10px;width:30.19px;height:11.30px;line-height:11.30px">35</div>
<div class="t v b" style="left:336.66px;top:666.10px;width:30.19px;height:11.30px;line-height:11.30px">40</div>
<div class="t v b" style="left:366.86px;top:666.10px;width:30.19px;height:11.30px;line-height:11.30px">45</div>
<div class="t v b" style="left:397.04px;top:666.10px;width:30.19px;height:11.30px;line-height:11.30px">50</div>
<div class="t v b" style="left:427.24px;top:666.10px;width:30.19px;height:11.30px;line-height:11.30px">60</div>
<div class="t v b" style="left:457.42px;top:666.10px;width:30.19px;height:11.30px;line-height:11.30px">75</div>
<div class="t v b" style="left:487.62px;top:666.10px;width:30.19px;height:11.30px;line-height:11.30px">90</div>
<div class="t v b" style="left:517.81px;top:666.10px;width:30.19px;height:11.30px;line-height:11.30px">120</div>
<div class="t v b" style="left:548.00px;top:666.10px;width:30.19px;height:11.30px;line-height:11.30px">150</div>
<div class="t v b" style="left:578.18px;top:666.10px;width:30.19px;height:11.30px;line-height:11.30px">170</div>
<div class="t v b" style="left:608.38px;top:666.10px;width:30.19px;height:11.30px;line-height:11.30px">190</div>
<div class="t" style="left:132.50px;top:677.40px;width:70.00px;height:11.30px;line-height:11.30px;text-align:left;">Altezza</div>
<div class="t" style="left:193.50px;top:677.40px;width:24.00px;height:11.30px;line-height:11.30px;text-align:left;">mm</div>
<div class="t v " style="left:215.91px;top:677.40px;width:30.19px;height:11.30px;line-height:11.30px">1350</div>
<div class="t v " style="left:246.09px;top:677.40px;width:30.19px;height:11.30px;line-height:11.30px">1350</div>
<div class="t v " style="left:276.28px;top:677.40px;width:30.19px;height:11.30px;line-height:11.30px">1350</div>
<div class="t v " style="left:306.47px;top:677.40px;width:30.19px;height:11.30px;line-height:11.30px">1350</div>
<div class="t v " style="left:336.66px;top:677.40px;width:30.19px;height:11.30px;line-height:11.30px">1350</div>
<div class="t v " style="left:366.86px;top:677.40px;width:30.19px;height:11.30px;line-height:11.30px">1350</div>
<div class="t v " style="left:397.04px;top:677.40px;width:30.19px;height:11.30px;line-height:11.30px">1500</div>
<div class="t v " style="left:427.24px;top:677.40px;width:30.19px;height:11.30px;line-height:11.30px">1500</div>
<div class="t v " style="left:457.42px;top:677.40px;width:30.19px;height:11.30px;line-height:11.30px">1500</div>
<div class="t v " style="left:487.62px;top:677.40px;width:30.19px;height:11.30px;line-height:11.30px">1500</div>
<div class="t v " style="left:517.81px;top:677.40px;width:30.19px;height:11.30px;line-height:11.30px">1500</div>
<div class="t v " style="left:548.00px;top:677.40px;width:30.19px;height:11.30px;line-height:11.30px">1500</div>
<div class="t v " style="left:578.18px;top:677.40px;width:30.19px;height:11.30px;line-height:11.30px">1500</div>
<div class="t v " style="left:608.38px;top:677.40px;width:30.19px;height:11.30px;line-height:11.30px">1500</div>
<div class="t" style="left:132.50px;top:688.70px;width:70.00px;height:11.30px;line-height:11.30px;text-align:left;">Profondità</div>
<div class="t" style="left:193.50px;top:688.70px;width:24.00px;height:11.30px;line-height:11.30px;text-align:left;">mm</div>
<div class="t v " style="left:215.91px;top:688.70px;width:30.19px;height:11.30px;line-height:11.30px">455</div>
<div class="t v " style="left:246.09px;top:688.70px;width:30.19px;height:11.30px;line-height:11.30px">455</div>
<div class="t v " style="left:276.28px;top:688.70px;width:30.19px;height:11.30px;line-height:11.30px">455</div>
<div class="t v " style="left:306.47px;top:688.70px;width:30.19px;height:11.30px;line-height:11.30px">455</div>
<div class="t v " style="left:336.66px;top:688.70px;width:30.19px;height:11.30px;line-height:11.30px">455</div>
<div class="t v " style="left:366.86px;top:688.70px;width:30.19px;height:11.30px;line-height:11.30px">455</div>
<div class="t v " style="left:397.04px;top:688.70px;width:30.19px;height:11.30px;line-height:11.30px">850</div>
<div class="t v " style="left:427.24px;top:688.70px;width:30.19px;height:11.30px;line-height:11.30px">850</div>
<div class="t v " style="left:457.42px;top:688.70px;width:30.19px;height:11.30px;line-height:11.30px">850</div>
<div class="t v " style="left:487.62px;top:688.70px;width:30.19px;height:11.30px;line-height:11.30px">850</div>
<div class="t v " style="left:517.81px;top:688.70px;width:30.19px;height:11.30px;line-height:11.30px">850</div>
<div class="t v " style="left:548.00px;top:688.70px;width:30.19px;height:11.30px;line-height:11.30px">850</div>
<div class="t v " style="left:578.18px;top:688.70px;width:30.19px;height:11.30px;line-height:11.30px">850</div>
<div class="t v " style="left:608.38px;top:688.70px;width:30.19px;height:11.30px;line-height:11.30px">850</div>
<div class="t" style="left:132.50px;top:700.00px;width:70.00px;height:11.30px;line-height:11.30px;text-align:left;">Larghezza</div>
<div class="t" style="left:51.90px;top:677.40px;width:80.00px;height:33.90px;line-height:33.90px;text-align:left;">Dimensione</div>
<div class="t" style="left:193.50px;top:700.00px;width:24.00px;height:11.30px;line-height:11.30px;text-align:left;">mm</div>
<div class="t v " style="left:215.91px;top:700.00px;width:30.19px;height:11.30px;line-height:11.30px">821</div>
<div class="t v " style="left:246.09px;top:700.00px;width:30.19px;height:11.30px;line-height:11.30px">821</div>
<div class="t v " style="left:276.28px;top:700.00px;width:30.19px;height:11.30px;line-height:11.30px">821</div>
<div class="t v " style="left:306.47px;top:700.00px;width:30.19px;height:11.30px;line-height:11.30px">821</div>
<div class="t v " style="left:336.66px;top:700.00px;width:30.19px;height:11.30px;line-height:11.30px">821</div>
<div class="t v " style="left:366.86px;top:700.00px;width:30.19px;height:11.30px;line-height:11.30px">821</div>
<div class="t v " style="left:397.04px;top:700.00px;width:30.19px;height:11.30px;line-height:11.30px">1210</div>
<div class="t v " style="left:427.24px;top:700.00px;width:30.19px;height:11.30px;line-height:11.30px">1210</div>
<div class="t v " style="left:457.42px;top:700.00px;width:30.19px;height:11.30px;line-height:11.30px">1210</div>
<div class="t v " style="left:487.62px;top:700.00px;width:30.19px;height:11.30px;line-height:11.30px">1210</div>
<div class="t v " style="left:517.81px;top:700.00px;width:30.19px;height:11.30px;line-height:11.30px">1210</div>
<div class="t v " style="left:548.00px;top:700.00px;width:30.19px;height:11.30px;line-height:11.30px">1210</div>
<div class="t v " style="left:578.18px;top:700.00px;width:30.19px;height:11.30px;line-height:11.30px">1210</div>
<div class="t v " style="left:608.38px;top:700.00px;width:30.19px;height:11.30px;line-height:11.30px">1210</div>
<div class="t " style="left:51.90px;top:711.30px;height:11.30px;line-height:11.30px">Peso operativo</div>
<div class="t" style="left:193.50px;top:711.30px;width:24.00px;height:11.30px;line-height:11.30px;text-align:left;">kg</div>
<div class="t v " style="left:215.91px;top:711.30px;width:30.19px;height:11.30px;line-height:11.30px">144</div>
<div class="t v " style="left:246.09px;top:711.30px;width:30.19px;height:11.30px;line-height:11.30px">164</div>
<div class="t v " style="left:276.28px;top:711.30px;width:30.19px;height:11.30px;line-height:11.30px">166</div>
<div class="t v " style="left:306.47px;top:711.30px;width:30.19px;height:11.30px;line-height:11.30px">166</div>
<div class="t v " style="left:336.66px;top:711.30px;width:30.19px;height:11.30px;line-height:11.30px">172</div>
<div class="t v " style="left:366.86px;top:711.30px;width:30.19px;height:11.30px;line-height:11.30px">172</div>
<div class="t v " style="left:397.04px;top:711.30px;width:30.19px;height:11.30px;line-height:11.30px">332</div>
<div class="t v " style="left:427.24px;top:711.30px;width:30.19px;height:11.30px;line-height:11.30px">344</div>
<div class="t v " style="left:457.42px;top:711.30px;width:30.19px;height:11.30px;line-height:11.30px">365</div>
<div class="t v " style="left:487.62px;top:711.30px;width:30.19px;height:11.30px;line-height:11.30px">376</div>
<div class="t v " style="left:517.81px;top:711.30px;width:30.19px;height:11.30px;line-height:11.30px">558</div>
<div class="t v " style="left:548.00px;top:711.30px;width:30.19px;height:11.30px;line-height:11.30px">612</div>
<div class="t v " style="left:578.18px;top:711.30px;width:30.19px;height:11.30px;line-height:11.30px">643</div>
<div class="t v " style="left:608.38px;top:711.30px;width:30.19px;height:11.30px;line-height:11.30px">674</div>
<div class="t b" style="left:51.90px;top:722.60px;height:11.30px;line-height:11.30px">Connessione acqua (evaporatore)</div>
<div class="t " style="left:51.90px;top:733.90px;height:11.30px;line-height:11.30px">Tipo di connessione</div>
<div class="t v  sm" style="left:215.91px;top:733.90px;width:30.19px;height:11.30px;line-height:11.30px">Victaulic<sup class="r">®</sup></div>
<div class="t v  sm" style="left:246.09px;top:733.90px;width:30.19px;height:11.30px;line-height:11.30px">Victaulic<sup class="r">®</sup></div>
<div class="t v  sm" style="left:276.28px;top:733.90px;width:30.19px;height:11.30px;line-height:11.30px">Victaulic<sup class="r">®</sup></div>
<div class="t v  sm" style="left:306.47px;top:733.90px;width:30.19px;height:11.30px;line-height:11.30px">Victaulic<sup class="r">®</sup></div>
<div class="t v  sm" style="left:336.66px;top:733.90px;width:30.19px;height:11.30px;line-height:11.30px">Victaulic<sup class="r">®</sup></div>
<div class="t v  sm" style="left:366.86px;top:733.90px;width:30.19px;height:11.30px;line-height:11.30px">Victaulic<sup class="r">®</sup></div>
<div class="t v  sm" style="left:397.04px;top:733.90px;width:30.19px;height:11.30px;line-height:11.30px">Victaulic<sup class="r">®</sup></div>
<div class="t v  sm" style="left:427.24px;top:733.90px;width:30.19px;height:11.30px;line-height:11.30px">Victaulic<sup class="r">®</sup></div>
<div class="t v  sm" style="left:457.42px;top:733.90px;width:30.19px;height:11.30px;line-height:11.30px">Victaulic<sup class="r">®</sup></div>
<div class="t v  sm" style="left:487.62px;top:733.90px;width:30.19px;height:11.30px;line-height:11.30px">Victaulic<sup class="r">®</sup></div>
<div class="t v  sm" style="left:517.81px;top:733.90px;width:30.19px;height:11.30px;line-height:11.30px">Victaulic<sup class="r">®</sup></div>
<div class="t v  sm" style="left:548.00px;top:733.90px;width:30.19px;height:11.30px;line-height:11.30px">Victaulic<sup class="r">®</sup></div>
<div class="t v  sm" style="left:578.18px;top:733.90px;width:30.19px;height:11.30px;line-height:11.30px">Victaulic<sup class="r">®</sup></div>
<div class="t v  sm" style="left:608.38px;top:733.90px;width:30.19px;height:11.30px;line-height:11.30px">Victaulic<sup class="r">®</sup></div>
<div class="t " style="left:51.90px;top:745.20px;height:11.30px;line-height:11.30px">Diametro ingresso/uscita</div>
<div class="t" style="left:193.50px;top:745.20px;width:24.00px;height:11.30px;line-height:11.30px;text-align:left;">Pollici</div>
<div class="t v " style="left:215.91px;top:745.20px;width:30.19px;height:11.30px;line-height:11.30px">1 ½</div>
<div class="t v " style="left:246.09px;top:745.20px;width:30.19px;height:11.30px;line-height:11.30px">1 ½</div>
<div class="t v " style="left:276.28px;top:745.20px;width:30.19px;height:11.30px;line-height:11.30px">1 ½</div>
<div class="t v " style="left:306.47px;top:745.20px;width:30.19px;height:11.30px;line-height:11.30px">1 ½</div>
<div class="t v " style="left:336.66px;top:745.20px;width:30.19px;height:11.30px;line-height:11.30px">1 ½</div>
<div class="t v " style="left:366.86px;top:745.20px;width:30.19px;height:11.30px;line-height:11.30px">1 ½</div>
<div class="t v " style="left:397.04px;top:745.20px;width:30.19px;height:11.30px;line-height:11.30px">2 ½</div>
<div class="t v " style="left:427.24px;top:745.20px;width:30.19px;height:11.30px;line-height:11.30px">2 ½</div>
<div class="t v " style="left:457.42px;top:745.20px;width:30.19px;height:11.30px;line-height:11.30px">2 ½</div>
<div class="t v " style="left:487.62px;top:745.20px;width:30.19px;height:11.30px;line-height:11.30px">2 ½</div>
<div class="t v " style="left:517.81px;top:745.20px;width:30.19px;height:11.30px;line-height:11.30px">2 ½</div>
<div class="t v " style="left:548.00px;top:745.20px;width:30.19px;height:11.30px;line-height:11.30px">2 ½</div>
<div class="t v " style="left:578.18px;top:745.20px;width:30.19px;height:11.30px;line-height:11.30px">2 ½</div>
<div class="t v " style="left:608.38px;top:745.20px;width:30.19px;height:11.30px;line-height:11.30px">2 ½</div>
<div class="t b" style="left:51.90px;top:756.50px;height:11.30px;line-height:11.30px">Connessioni del refrigerante del condensatore a distanza</div>
<div class="t" style="left:51.90px;top:767.80px;height:22.60px;line-height:22.60px">Tipo di connessione</div>
<div class="t v" style="left:212.91px;top:771.40px;width:36.19px;line-height:8.0px;font-size:6.3px;letter-spacing:-0.05px">Da saldo-<br>brasare</div>
<div class="t v" style="left:243.09px;top:771.40px;width:36.19px;line-height:8.0px;font-size:6.3px;letter-spacing:-0.05px">Da saldo-<br>brasare</div>
<div class="t v" style="left:273.28px;top:771.40px;width:36.19px;line-height:8.0px;font-size:6.3px;letter-spacing:-0.05px">Da saldo-<br>brasare</div>
<div class="t v" style="left:303.47px;top:771.40px;width:36.19px;line-height:8.0px;font-size:6.3px;letter-spacing:-0.05px">Da saldo-<br>brasare</div>
<div class="t v" style="left:333.66px;top:771.40px;width:36.19px;line-height:8.0px;font-size:6.3px;letter-spacing:-0.05px">Da saldo-<br>brasare</div>
<div class="t v" style="left:363.86px;top:771.40px;width:36.19px;line-height:8.0px;font-size:6.3px;letter-spacing:-0.05px">Da saldo-<br>brasare</div>
<div class="t v" style="left:394.04px;top:771.40px;width:36.19px;line-height:8.0px;font-size:6.3px;letter-spacing:-0.05px">Da saldo-<br>brasare</div>
<div class="t v" style="left:424.24px;top:771.40px;width:36.19px;line-height:8.0px;font-size:6.3px;letter-spacing:-0.05px">Da saldo-<br>brasare</div>
<div class="t v" style="left:454.42px;top:771.40px;width:36.19px;line-height:8.0px;font-size:6.3px;letter-spacing:-0.05px">Da saldo-<br>brasare</div>
<div class="t v" style="left:484.62px;top:771.40px;width:36.19px;line-height:8.0px;font-size:6.3px;letter-spacing:-0.05px">Da saldo-<br>brasare</div>
<div class="t v" style="left:514.81px;top:771.40px;width:36.19px;line-height:8.0px;font-size:6.3px;letter-spacing:-0.05px">Da saldo-<br>brasare</div>
<div class="t v" style="left:545.00px;top:771.40px;width:36.19px;line-height:8.0px;font-size:6.3px;letter-spacing:-0.05px">Da saldo-<br>brasare</div>
<div class="t v" style="left:575.18px;top:771.40px;width:36.19px;line-height:8.0px;font-size:6.3px;letter-spacing:-0.05px">Da saldo-<br>brasare</div>
<div class="t v" style="left:605.38px;top:771.40px;width:36.19px;line-height:8.0px;font-size:6.3px;letter-spacing:-0.05px">Da saldo-<br>brasare</div>
<div class="t " style="left:51.90px;top:790.40px;height:11.30px;line-height:11.30px">Diametro in ingresso</div>
<div class="t" style="left:193.50px;top:790.40px;width:24.00px;height:11.30px;line-height:11.30px;text-align:left;">Pollici</div>
<div class="t v " style="left:215.91px;top:790.40px;width:30.19px;height:11.30px;line-height:11.30px">⅝</div>
<div class="t v " style="left:246.09px;top:790.40px;width:30.19px;height:11.30px;line-height:11.30px">⅝</div>
<div class="t v " style="left:276.28px;top:790.40px;width:30.19px;height:11.30px;line-height:11.30px">⅝</div>
<div class="t v " style="left:306.47px;top:790.40px;width:30.19px;height:11.30px;line-height:11.30px">⅝</div>
<div class="t v " style="left:336.66px;top:790.40px;width:30.19px;height:11.30px;line-height:11.30px">⅝</div>
<div class="t v " style="left:366.86px;top:790.40px;width:30.19px;height:11.30px;line-height:11.30px">⅝</div>
<div class="t v " style="left:397.04px;top:790.40px;width:30.19px;height:11.30px;line-height:11.30px">⅝</div>
<div class="t v " style="left:427.24px;top:790.40px;width:30.19px;height:11.30px;line-height:11.30px">⅝</div>
<div class="t v " style="left:457.42px;top:790.40px;width:30.19px;height:11.30px;line-height:11.30px">⅞</div>
<div class="t v " style="left:487.62px;top:790.40px;width:30.19px;height:11.30px;line-height:11.30px">⅞</div>
<div class="t v " style="left:517.81px;top:790.40px;width:30.19px;height:11.30px;line-height:11.30px">⅞</div>
<div class="t v " style="left:548.00px;top:790.40px;width:30.19px;height:11.30px;line-height:11.30px">⅞</div>
<div class="t v " style="left:578.18px;top:790.40px;width:30.19px;height:11.30px;line-height:11.30px">1 ⅛</div>
<div class="t v " style="left:608.38px;top:790.40px;width:30.19px;height:11.30px;line-height:11.30px">1 ⅛</div>
<div class="t " style="left:51.90px;top:801.70px;height:11.30px;line-height:11.30px">Diametro in uscita</div>
<div class="t" style="left:193.50px;top:801.70px;width:24.00px;height:11.30px;line-height:11.30px;text-align:left;">Pollici</div>
<div class="t v " style="left:215.91px;top:801.70px;width:30.19px;height:11.30px;line-height:11.30px">⅝</div>
<div class="t v " style="left:246.09px;top:801.70px;width:30.19px;height:11.30px;line-height:11.30px">⅞</div>
<div class="t v " style="left:276.28px;top:801.70px;width:30.19px;height:11.30px;line-height:11.30px">⅞</div>
<div class="t v " style="left:306.47px;top:801.70px;width:30.19px;height:11.30px;line-height:11.30px">⅞</div>
<div class="t v " style="left:336.66px;top:801.70px;width:30.19px;height:11.30px;line-height:11.30px">⅞</div>
<div class="t v " style="left:366.86px;top:801.70px;width:30.19px;height:11.30px;line-height:11.30px">⅞</div>
<div class="t v " style="left:397.04px;top:801.70px;width:30.19px;height:11.30px;line-height:11.30px">⅞</div>
<div class="t v " style="left:427.24px;top:801.70px;width:30.19px;height:11.30px;line-height:11.30px">⅞</div>
<div class="t v " style="left:457.42px;top:801.70px;width:30.19px;height:11.30px;line-height:11.30px">1 ⅛</div>
<div class="t v " style="left:487.62px;top:801.70px;width:30.19px;height:11.30px;line-height:11.30px">1 ⅛</div>
<div class="t v " style="left:517.81px;top:801.70px;width:30.19px;height:11.30px;line-height:11.30px">1 ⅜</div>
<div class="t v " style="left:548.00px;top:801.70px;width:30.19px;height:11.30px;line-height:11.30px">1 ⅝</div>
<div class="t v " style="left:578.18px;top:801.70px;width:30.19px;height:11.30px;line-height:11.30px">1 ⅝</div>
<div class="t v " style="left:608.38px;top:801.70px;width:30.19px;height:11.30px;line-height:11.30px">1 ⅝</div>
<div style="position:absolute;left:48.40px;top:555.40px;width:589.60px;height:1px;background:#aaaaaa"></div>
<div style="position:absolute;left:48.40px;top:575.20px;width:589.60px;height:1px;background:#aaaaaa"></div>
<div style="position:absolute;left:129.00px;top:586.50px;width:509.00px;height:1px;background:#aaaaaa"></div>
<div style="position:absolute;left:129.00px;top:597.80px;width:509.00px;height:1px;background:#aaaaaa"></div>
<div style="position:absolute;left:48.40px;top:609.10px;width:589.60px;height:1px;background:#aaaaaa"></div>
<div style="position:absolute;left:129.00px;top:620.40px;width:509.00px;height:1px;background:#aaaaaa"></div>
<div style="position:absolute;left:48.40px;top:631.70px;width:589.60px;height:1px;background:#aaaaaa"></div>
<div style="position:absolute;left:48.40px;top:643.00px;width:589.60px;height:1px;background:#aaaaaa"></div>
<div style="position:absolute;left:48.40px;top:654.30px;width:589.60px;height:1px;background:#aaaaaa"></div>
<div style="position:absolute;left:48.40px;top:665.60px;width:589.60px;height:1px;background:#aaaaaa"></div>
<div style="position:absolute;left:48.40px;top:676.90px;width:589.60px;height:1px;background:#aaaaaa"></div>
<div style="position:absolute;left:129.00px;top:688.20px;width:509.00px;height:1px;background:#aaaaaa"></div>
<div style="position:absolute;left:129.00px;top:699.50px;width:509.00px;height:1px;background:#aaaaaa"></div>
<div style="position:absolute;left:48.40px;top:710.80px;width:589.60px;height:1px;background:#aaaaaa"></div>
<div style="position:absolute;left:48.40px;top:722.10px;width:589.60px;height:1px;background:#aaaaaa"></div>
<div style="position:absolute;left:48.40px;top:733.40px;width:589.60px;height:1px;background:#aaaaaa"></div>
<div style="position:absolute;left:48.40px;top:744.70px;width:589.60px;height:1px;background:#aaaaaa"></div>
<div style="position:absolute;left:48.40px;top:756.00px;width:589.60px;height:1px;background:#aaaaaa"></div>
<div style="position:absolute;left:48.40px;top:767.30px;width:589.60px;height:1px;background:#aaaaaa"></div>
<div style="position:absolute;left:48.40px;top:789.90px;width:589.60px;height:1px;background:#aaaaaa"></div>
<div style="position:absolute;left:48.40px;top:801.20px;width:589.60px;height:1px;background:#aaaaaa"></div>
<div style="position:absolute;left:48.40px;top:812.50px;width:589.60px;height:1px;background:#aaaaaa"></div>
<div class="fn" style="transform:scaleX(0.9935);left:49.0px;top:818.40px">1) Secondo la norma EN14511: temperatura dell’acqua di uscita/di mandata dell’evaporatore 12 °C/7 °C, temperatura dell’acqua di uscita/di mandata del condensatore 30 °C/35 °C. 2) Secondo la norma</div>
<div class="fn" style="transform:scaleX(0.9797);left:49.0px;top:825.93px">EN14825. 3) Conforme alla direttiva ErP: secondo il REGOLAMENTO DELLA COMMISSIONE (UE) n. 2016/2281. 4) I livelli acustici sono a pieno carico. I valori di potenza sonora fanno riferimento alla norma ISO</div>
<div class="fn" style="transform:scaleX(0.9958);left:49.0px;top:833.46px">3744. 5) I livelli di pressione sonora fanno riferimento alla norma ISO 3744, forma parallelepipeda. 6) Secondo la norma EN14511: temperatura dell’acqua di uscita/di mandata dell’evaporatore 10 °C/7 °C,</div>
<div class="fn" style="transform:scaleX(0.9961);left:49.0px;top:840.99px">temperatura dell’acqua di uscita/di mandata del condensatore 40 °C/45 °C. 7) Secondo la norma EN14511: temperatura dell’acqua di uscita/di mandata dell’evaporatore 10 °C/7 °C, temperatura dell’acqua di</div>
<div class="fn" style="transform:scaleX(0.9824);left:49.0px;top:848.52px">uscita/di mandata del condensatore 30 °C/35 °C. 8) Conforme alla normativa ErP: secondo il REGOLAMENTO DELLA COMMISSIONE (UE) N. 813/2013. 9) Secondo la norma EN14825 - applicazione a bassa</div>
<div class="fn" style="transform:scaleX(1.0025);left:49.0px;top:856.05px">temperatura (35 °C). 10) Secondo la norma EN14825 - applicazione a temperatura media (55 °C). 11) I dati si riferiscono alla temperatura dell’acqua dell’evaporatore di 12/7 °C e alla temperatura di</div>
<div class="fn" style="transform:scaleX(0.9571);left:49.0px;top:863.58px">condensazione di 50 °C.</div>
<div class="fn disc" style="transform:scaleX(0.8022);left:48.7px;top:933.90px">Le specifiche sono soggette a modifiche senza preavviso. Per informazioni dettagliate su ErP / Etichette energetiche, visitate i nostri siti web www.aircon.panasonic.eu o www.ptc.panasonic.eu.</div>
<div style="position:absolute;left:652.6px;top:931.5px;font-weight:bold;font-size:9.6px;line-height:14px;color:#1a1a1a;letter-spacing:-0.2px">67</div>
<div style="position:absolute;left:47.90px;top:893.60px;width:1.00px;height:31.70px;background:#d2d2d2"></div>
<div style="position:absolute;left:86.51px;top:893.60px;width:1.00px;height:31.70px;background:#d2d2d2"></div>
<div style="position:absolute;left:125.12px;top:893.60px;width:1.00px;height:31.70px;background:#d2d2d2"></div>
<div style="position:absolute;left:163.73px;top:893.60px;width:1.00px;height:31.70px;background:#d2d2d2"></div>
<div style="position:absolute;left:202.34px;top:893.60px;width:1.00px;height:31.70px;background:#d2d2d2"></div>
<div style="position:absolute;left:240.95px;top:893.60px;width:1.00px;height:31.70px;background:#d2d2d2"></div>
<div style="position:absolute;left:279.56px;top:893.60px;width:1.00px;height:31.70px;background:#d2d2d2"></div>
<div style="position:absolute;left:318.17px;top:893.60px;width:1.00px;height:31.70px;background:#d2d2d2"></div>
<div style="position:absolute;left:356.78px;top:893.60px;width:1.00px;height:31.70px;background:#d2d2d2"></div>
<div class="ic" style="left:23.30px;top:896.90px;width:80px;font-size:14.0px;line-height:16.10px;color:#8ab85a;font-weight:bold;transform:scaleX(0.74);letter-spacing:0px;-webkit-text-stroke:0.25px #8ab85a">ErP</div>
<svg style="position:absolute;left:67.6px;top:912.2px" width="14" height="12" viewBox="0 0 14 12"><path d="M1.9 6.6 L5.1 10.2 L12.2 1.9" fill="none" stroke="#7fc24a" stroke-width="2.4" stroke-linecap="round" stroke-linejoin="round"/></svg>
<div class="ic" style="left:66.31px;top:898.80px;width:80px;font-size:7.4px;line-height:8.51px;color:#8cba55;font-weight:bold;transform:scaleX(0.78);letter-spacing:0px;-webkit-text-stroke:0.25px #8cba55">SEER</div>
<div class="ic" style="left:66.31px;top:906.80px;width:80px;font-size:7.4px;line-height:8.51px;color:#8cba55;font-weight:bold;transform:scaleX(0.78);letter-spacing:0px;-webkit-text-stroke:0.25px #8cba55">ELEVATO</div>
<div class="ic" style="left:66.31px;top:920.00px;width:80px;font-size:3.6px;line-height:4.14px;color:#9fca6e;font-weight:bold;transform:scaleX(0.9);letter-spacing:0px;-webkit-text-stroke:0px #9fca6e">4,70</div>
<div class="ic" style="left:104.93px;top:898.80px;width:80px;font-size:7.4px;line-height:8.51px;color:#8cba55;font-weight:bold;transform:scaleX(0.78);letter-spacing:0px;-webkit-text-stroke:0.25px #8cba55">SCOP</div>
<div class="ic" style="left:104.93px;top:906.80px;width:80px;font-size:7.4px;line-height:8.51px;color:#8cba55;font-weight:bold;transform:scaleX(0.78);letter-spacing:0px;-webkit-text-stroke:0.25px #8cba55">ELEVATO</div>
<div class="ic" style="left:104.93px;top:920.00px;width:80px;font-size:3.6px;line-height:4.14px;color:#9fca6e;font-weight:bold;transform:scaleX(0.9);letter-spacing:0px;-webkit-text-stroke:0px #9fca6e">5,38</div>
<svg style="position:absolute;left:169.5px;top:896.8px" width="29" height="13" viewBox="0 0 29 13"><g fill="none" stroke="#a9bf94" stroke-width="0.8"><path d="M4.6 2.8 C3.4 5 1.6 6.6 1.6 8.8 A3 3 0 0 0 7.6 8.8 C7.6 6.6 5.8 5 4.6 2.8Z"/><path d="M13.3 1.6 C12 4.2 9.8 6 9.8 8.3 A3.5 3.5 0 0 0 16.8 8.3 C16.8 6 14.6 4.2 13.3 1.6Z"/><path d="M23 0.6 C21.6 3.4 19 5.4 19 8 A4 4 0 0 0 27 8 C27 5.4 24.4 3.4 23 0.6Z"/></g></svg>
<div class="ic" style="left:143.53px;top:915.90px;width:80px;font-size:3.7px;line-height:4.25px;color:#9fca6e;font-weight:bold;transform:scaleX(0.85);letter-spacing:0px;-webkit-text-stroke:0px #9fca6e">RAFFREDDATO AD</div>
<div class="ic" style="left:143.53px;top:920.50px;width:80px;font-size:3.7px;line-height:4.25px;color:#9fca6e;font-weight:bold;transform:scaleX(0.85);letter-spacing:0px;-webkit-text-stroke:0px #9fca6e">ACQUA</div>
<svg style="position:absolute;left:214px;top:894.2px" width="18" height="19" viewBox="0 0 18 19"><g fill="#f6fbef" stroke="#b3d68a" stroke-width="0.75"><path d="M1 1.5 L6.5 0.8 L6.5 17.2 L1 18 Z"/><path d="M7.4 1.5 L11.2 0.8 L11.2 17.2 L7.4 18 Z"/><path d="M12.1 1.5 L16.8 0.8 L16.8 17.2 L12.1 18 Z"/></g><g fill="none" stroke="#a8cf7a" stroke-width="0.7"><path d="M1 3 L2.6 1.6 L4.2 3 L5.8 1.6 L7.4 3 L9 1.6 L10.6 3 L12.2 1.6 L13.8 3 L15.4 1.6 L16.8 3"/><path d="M1 16.4 L2.6 17.8 L4.2 16.4 L5.8 17.8 L7.4 16.4 L9 17.8 L10.6 16.4 L12.2 17.8 L13.8 16.4 L15.4 17.8 L16.8 16.4"/></g></svg>
<div class="ic" style="left:182.15px;top:915.90px;width:80px;font-size:3.7px;line-height:4.25px;color:#9fca6e;font-weight:bold;transform:scaleX(0.85);letter-spacing:0px;-webkit-text-stroke:0px #9fca6e">SCAMBIATORI DI</div>
<div class="ic" style="left:182.15px;top:920.50px;width:80px;font-size:3.7px;line-height:4.25px;color:#9fca6e;font-weight:bold;transform:scaleX(0.85);letter-spacing:0px;-webkit-text-stroke:0px #9fca6e">CALORE A PIASTRE</div>
<svg style="position:absolute;left:253.5px;top:894.2px" width="16" height="20" viewBox="0 0 16 20"><g fill="#f3f9ea" stroke="#b7cb98" stroke-width="0.8"><rect x="1.1" y="1.7" width="6.1" height="16.7" rx="3"/><path d="M9.7 4.2 Q12 0.6 14.3 4.2 L14.3 10.2 Q12 13.6 9.7 10.2 Z"/><path d="M7.3 13.9 L11.8 13.9 L11.8 11.9" fill="none"/><path d="M7.6 5.8 L14.6 5.8 M11.9 1.6 L11.9 12" fill="none" stroke="#9fcf6c"/></g></svg>
<div class="ic" style="left:220.75px;top:915.90px;width:80px;font-size:3.7px;line-height:4.25px;color:#9fca6e;font-weight:bold;transform:scaleX(0.85);letter-spacing:0px;-webkit-text-stroke:0px #9fca6e">COMPRESSORE</div>
<div class="ic" style="left:220.75px;top:920.50px;width:80px;font-size:3.7px;line-height:4.25px;color:#9fca6e;font-weight:bold;transform:scaleX(0.85);letter-spacing:0px;-webkit-text-stroke:0px #9fca6e">SCROLL</div>
<svg style="position:absolute;left:288.8px;top:894.2px" width="22" height="19" viewBox="0 0 22 19"><path d="M1.4 4.9 L1.4 14.2 Q7 14.5 12.5 18.2 L12.5 1.1 Q7 4.6 1.4 4.9 Z" fill="#fffaf0" stroke="#f3c98c" stroke-width="0.85"/><path d="M15.6 6.6 L20.4 11.5 M20.4 6.6 L15.6 11.5" stroke="#cfcfcf" stroke-width="0.8"/></svg>
<div class="ic" style="left:259.37px;top:920.50px;width:80px;font-size:3.7px;line-height:4.25px;color:#f2b75c;font-weight:bold;transform:scaleX(0.85);letter-spacing:0px;-webkit-text-stroke:0px #f2b75c">SUPER SILENT</div>
<svg style="position:absolute;left:325px;top:895.8px" width="28" height="17" viewBox="0 0 28 17"><g fill="none" stroke="#f3c98c" stroke-width="0.9"><path d="M1.1 12.7 C2.5 3.5 17 -2.5 24.7 6.2"/><path d="M5.8 11 C8.5 5.5 16.5 3.8 21.5 7"/><path d="M10.6 15.8 Q8.8 14 10.8 12.6 L22.3 6.4 L25.6 10.8 L12.4 16 Q11.4 16.4 10.6 15.8 Z" fill="#fff6e2"/><path d="M22.3 6.4 L24.4 5.6 L26.4 9.8 L25.6 10.8" fill="#f8dca8"/></g></svg>
<div class="ic" style="left:297.97px;top:915.90px;width:80px;font-size:3.7px;line-height:4.25px;color:#f2b75c;font-weight:bold;transform:scaleX(0.85);letter-spacing:0px;-webkit-text-stroke:0px #f2b75c">PRESTAZIONI DI</div>
<div class="ic" style="left:297.97px;top:920.50px;width:80px;font-size:3.7px;line-height:4.25px;color:#f2b75c;font-weight:bold;transform:scaleX(0.85);letter-spacing:0px;-webkit-text-stroke:0px #f2b75c">ALTISSIMO LIVELLO</div>
<svg style="position:absolute;left:0;top:0" width="678" height="32" viewBox="0 0 678 32"><g stroke="#d6f3fc" stroke-width="1.7" stroke-linecap="round"><line x1="292.00" y1="16.80" x2="292.00" y2="7.20"/><line x1="292.00" y1="10.60" x2="289.94" y2="8.15"/><line x1="292.00" y1="10.60" x2="294.06" y2="8.15"/><line x1="292.00" y1="16.80" x2="298.79" y2="10.01"/><line x1="296.38" y1="12.42" x2="296.66" y2="9.23"/><line x1="296.38" y1="12.42" x2="299.57" y2="12.14"/><line x1="292.00" y1="16.80" x2="301.60" y2="16.80"/><line x1="298.20" y1="16.80" x2="300.65" y2="14.74"/><line x1="298.20" y1="16.80" x2="300.65" y2="18.86"/><line x1="292.00" y1="16.80" x2="298.79" y2="23.59"/><line x1="296.38" y1="21.18" x2="299.57" y2="21.46"/><line x1="296.38" y1="21.18" x2="296.66" y2="24.37"/><line x1="292.00" y1="16.80" x2="292.00" y2="26.40"/><line x1="292.00" y1="23.00" x2="294.06" y2="25.45"/><line x1="292.00" y1="23.00" x2="289.94" y2="25.45"/><line x1="292.00" y1="16.80" x2="285.21" y2="23.59"/><line x1="287.62" y1="21.18" x2="287.34" y2="24.37"/><line x1="287.62" y1="21.18" x2="284.43" y2="21.46"/><line x1="292.00" y1="16.80" x2="282.40" y2="16.80"/><line x1="285.80" y1="16.80" x2="283.35" y2="18.86"/><line x1="285.80" y1="16.80" x2="283.35" y2="14.74"/><line x1="292.00" y1="16.80" x2="285.21" y2="10.01"/><line x1="287.62" y1="12.42" x2="284.43" y2="12.14"/><line x1="287.62" y1="12.42" x2="287.34" y2="9.23"/></g><g stroke="#fde3c8" fill="none"><circle cx="333.9" cy="16.6" r="6.3" stroke-width="1.1"/><line x1="333.90" y1="8.30" x2="333.90" y2="6.00" stroke-width="1.6" stroke-linecap="round"/><line x1="338.05" y1="9.41" x2="339.20" y2="7.42" stroke-width="1.6" stroke-linecap="round"/><line x1="341.09" y1="12.45" x2="343.08" y2="11.30" stroke-width="1.6" stroke-linecap="round"/><line x1="342.20" y1="16.60" x2="344.50" y2="16.60" stroke-width="1.6" stroke-linecap="round"/><line x1="341.09" y1="20.75" x2="343.08" y2="21.90" stroke-width="1.6" stroke-linecap="round"/><line x1="338.05" y1="23.79" x2="339.20" y2="25.78" stroke-width="1.6" stroke-linecap="round"/><line x1="333.90" y1="24.90" x2="333.90" y2="27.20" stroke-width="1.6" stroke-linecap="round"/><line x1="329.75" y1="23.79" x2="328.60" y2="25.78" stroke-width="1.6" stroke-linecap="round"/><line x1="326.71" y1="20.75" x2="324.72" y2="21.90" stroke-width="1.6" stroke-linecap="round"/><line x1="325.60" y1="16.60" x2="323.30" y2="16.60" stroke-width="1.6" stroke-linecap="round"/><line x1="326.71" y1="12.45" x2="324.72" y2="11.30" stroke-width="1.6" stroke-linecap="round"/><line x1="329.75" y1="9.41" x2="328.60" y2="7.42" stroke-width="1.6" stroke-linecap="round"/></g></svg>
</body></html>
